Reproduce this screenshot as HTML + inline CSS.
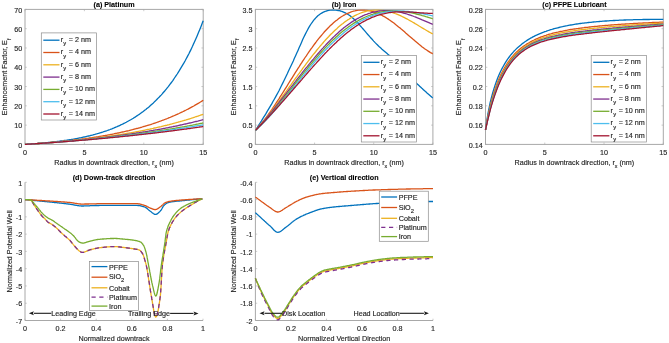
<!DOCTYPE html>
<html><head><meta charset="utf-8"><style>
html,body{margin:0;padding:0;background:#fff;width:669px;height:343px;overflow:hidden}
svg{display:block}
svg{will-change:transform}
text{font-family:"Liberation Sans",sans-serif;font-size:7.2px;fill:#262626;stroke:#262626;stroke-width:0.15px}
</style></head><body>
<svg width="669" height="343" viewBox="0 0 669 343">
<rect width="669" height="343" fill="#fff"/>
<rect x="25.00" y="9.40" width="178.20" height="135.00" fill="none" stroke="#a8a8a8" stroke-width="1"/>
<path d="M25.00,144.40v-1.8M25.00,9.40v1.8M84.40,144.40v-1.8M84.40,9.40v1.8M143.80,144.40v-1.8M143.80,9.40v1.8M203.20,144.40v-1.8M203.20,9.40v1.8M25.00,144.40h1.8M203.20,144.40h-1.8M25.00,125.11h1.8M203.20,125.11h-1.8M25.00,105.83h1.8M203.20,105.83h-1.8M25.00,86.54h1.8M203.20,86.54h-1.8M25.00,67.26h1.8M203.20,67.26h-1.8M25.00,47.97h1.8M203.20,47.97h-1.8M25.00,28.69h1.8M203.20,28.69h-1.8M25.00,9.40h1.8M203.20,9.40h-1.8" stroke="#a8a8a8" stroke-width="0.6" fill="none"/>
<text x="25.00" y="154.80" text-anchor="middle">0</text>
<text x="84.40" y="154.80" text-anchor="middle">5</text>
<text x="143.80" y="154.80" text-anchor="middle">10</text>
<text x="203.20" y="154.80" text-anchor="middle">15</text>
<text x="22.20" y="147.60" text-anchor="end">0</text>
<text x="22.20" y="128.31" text-anchor="end">10</text>
<text x="22.20" y="109.03" text-anchor="end">20</text>
<text x="22.20" y="89.74" text-anchor="end">30</text>
<text x="22.20" y="70.46" text-anchor="end">40</text>
<text x="22.20" y="51.17" text-anchor="end">50</text>
<text x="22.20" y="31.89" text-anchor="end">60</text>
<text x="22.20" y="12.60" text-anchor="end">70</text>
<text x="114.10" y="7.20" text-anchor="middle" font-weight="bold" style="fill:#000;stroke:#000;stroke-width:0.1px">(a) Platinum</text>
<text x="114.10" y="164.50" text-anchor="middle">Radius in downtrack direction, r<tspan dy="3.3" font-size="5.3">x</tspan><tspan dy="-3.3"> (nm)</tspan></text>
<text transform="translate(7.45,76.90) rotate(-90)" x="0" y="0" text-anchor="middle">Enhancement Factor, E<tspan dy="3.3" font-size="5.3">f</tspan></text>
<polyline points="25.0,144.4 25.9,144.3 26.8,144.3 27.7,144.2 28.6,144.2 29.5,144.1 30.4,144.0 31.3,144.0 32.2,143.9 33.1,143.8 34.0,143.8 34.9,143.7 35.7,143.6 36.6,143.6 37.5,143.5 38.4,143.4 39.3,143.3 40.2,143.3 41.1,143.2 42.0,143.1 42.9,143.0 43.8,142.9 44.7,142.9 45.6,142.8 46.5,142.7 47.4,142.6 48.3,142.5 49.2,142.4 50.1,142.3 51.0,142.2 51.9,142.1 52.8,142.0 53.7,141.9 54.6,141.8 55.4,141.7 56.3,141.6 57.2,141.5 58.1,141.4 59.0,141.3 59.9,141.1 60.8,141.0 61.7,140.9 62.6,140.8 63.5,140.7 64.4,140.5 65.3,140.4 66.2,140.3 67.1,140.1 68.0,140.0 68.9,139.9 69.8,139.7 70.7,139.6 71.6,139.4 72.5,139.3 73.4,139.1 74.3,139.0 75.1,138.8 76.0,138.6 76.9,138.5 77.8,138.3 78.7,138.1 79.6,137.9 80.5,137.8 81.4,137.6 82.3,137.4 83.2,137.2 84.1,137.0 85.0,136.8 85.9,136.6 86.8,136.4 87.7,136.2 88.6,136.0 89.5,135.8 90.4,135.5 91.3,135.3 92.2,135.1 93.1,134.9 94.0,134.6 94.8,134.4 95.7,134.1 96.6,133.9 97.5,133.6 98.4,133.4 99.3,133.1 100.2,132.8 101.1,132.5 102.0,132.3 102.9,132.0 103.8,131.7 104.7,131.4 105.6,131.1 106.5,130.8 107.4,130.5 108.3,130.1 109.2,129.8 110.1,129.5 111.0,129.1 111.9,128.8 112.8,128.4 113.7,128.1 114.5,127.7 115.4,127.3 116.3,126.9 117.2,126.6 118.1,126.2 119.0,125.8 119.9,125.4 120.8,124.9 121.7,124.5 122.6,124.1 123.5,123.6 124.4,123.2 125.3,122.7 126.2,122.3 127.1,121.8 128.0,121.3 128.9,120.8 129.8,120.3 130.7,119.8 131.6,119.2 132.5,118.7 133.4,118.2 134.2,117.6 135.1,117.1 136.0,116.5 136.9,115.9 137.8,115.3 138.7,114.7 139.6,114.1 140.5,113.4 141.4,112.8 142.3,112.1 143.2,111.5 144.1,110.8 145.0,110.1 145.9,109.4 146.8,108.6 147.7,107.9 148.6,107.2 149.5,106.4 150.4,105.6 151.3,104.8 152.2,104.0 153.1,103.2 153.9,102.4 154.8,101.5 155.7,100.6 156.6,99.7 157.5,98.8 158.4,97.9 159.3,97.0 160.2,96.0 161.1,95.1 162.0,94.1 162.9,93.0 163.8,92.0 164.7,91.0 165.6,89.9 166.5,88.8 167.4,87.7 168.3,86.6 169.2,85.4 170.1,84.2 171.0,83.0 171.9,81.8 172.8,80.6 173.6,79.3 174.5,78.0 175.4,76.7 176.3,75.3 177.2,74.0 178.1,72.6 179.0,71.2 179.9,69.7 180.8,68.2 181.7,66.7 182.6,65.2 183.5,63.7 184.4,62.1 185.3,60.5 186.2,58.8 187.1,57.1 188.0,55.4 188.9,53.7 189.8,51.9 190.7,50.1 191.6,48.2 192.5,46.3 193.3,44.4 194.2,42.5 195.1,40.5 196.0,38.5 196.9,36.4 197.8,34.3 198.7,32.1 199.6,29.9 200.5,27.7 201.4,25.4 202.3,23.1 203.2,20.8" fill="none" stroke="#0072BD" stroke-width="1.3" stroke-linejoin="round"/>
<polyline points="25.0,144.4 25.9,144.3 26.8,144.3 27.7,144.2 28.6,144.2 29.5,144.1 30.4,144.0 31.3,144.0 32.2,143.9 33.1,143.9 34.0,143.8 34.9,143.7 35.7,143.7 36.6,143.6 37.5,143.5 38.4,143.5 39.3,143.4 40.2,143.3 41.1,143.3 42.0,143.2 42.9,143.1 43.8,143.1 44.7,143.0 45.6,142.9 46.5,142.8 47.4,142.8 48.3,142.7 49.2,142.6 50.1,142.5 51.0,142.5 51.9,142.4 52.8,142.3 53.7,142.2 54.6,142.1 55.4,142.0 56.3,142.0 57.2,141.9 58.1,141.8 59.0,141.7 59.9,141.6 60.8,141.5 61.7,141.4 62.6,141.3 63.5,141.2 64.4,141.2 65.3,141.1 66.2,141.0 67.1,140.9 68.0,140.8 68.9,140.7 69.8,140.6 70.7,140.5 71.6,140.4 72.5,140.3 73.4,140.2 74.3,140.0 75.1,139.9 76.0,139.8 76.9,139.7 77.8,139.6 78.7,139.5 79.6,139.4 80.5,139.3 81.4,139.2 82.3,139.0 83.2,138.9 84.1,138.8 85.0,138.7 85.9,138.5 86.8,138.4 87.7,138.3 88.6,138.2 89.5,138.0 90.4,137.9 91.3,137.8 92.2,137.6 93.1,137.5 94.0,137.4 94.8,137.2 95.7,137.1 96.6,136.9 97.5,136.8 98.4,136.7 99.3,136.5 100.2,136.4 101.1,136.2 102.0,136.1 102.9,135.9 103.8,135.7 104.7,135.6 105.6,135.4 106.5,135.3 107.4,135.1 108.3,134.9 109.2,134.8 110.1,134.6 111.0,134.4 111.9,134.3 112.8,134.1 113.7,133.9 114.5,133.7 115.4,133.5 116.3,133.4 117.2,133.2 118.1,133.0 119.0,132.8 119.9,132.6 120.8,132.4 121.7,132.2 122.6,132.0 123.5,131.8 124.4,131.6 125.3,131.4 126.2,131.2 127.1,131.0 128.0,130.8 128.9,130.6 129.8,130.3 130.7,130.1 131.6,129.9 132.5,129.7 133.4,129.4 134.2,129.2 135.1,129.0 136.0,128.7 136.9,128.5 137.8,128.3 138.7,128.0 139.6,127.8 140.5,127.5 141.4,127.3 142.3,127.0 143.2,126.7 144.1,126.5 145.0,126.2 145.9,126.0 146.8,125.7 147.7,125.4 148.6,125.1 149.5,124.8 150.4,124.6 151.3,124.3 152.2,124.0 153.1,123.7 153.9,123.4 154.8,123.1 155.7,122.8 156.6,122.5 157.5,122.2 158.4,121.8 159.3,121.5 160.2,121.2 161.1,120.9 162.0,120.5 162.9,120.2 163.8,119.9 164.7,119.5 165.6,119.2 166.5,118.8 167.4,118.5 168.3,118.1 169.2,117.7 170.1,117.4 171.0,117.0 171.9,116.6 172.8,116.2 173.6,115.9 174.5,115.5 175.4,115.1 176.3,114.7 177.2,114.3 178.1,113.9 179.0,113.5 179.9,113.0 180.8,112.6 181.7,112.2 182.6,111.8 183.5,111.3 184.4,110.9 185.3,110.4 186.2,110.0 187.1,109.5 188.0,109.1 188.9,108.6 189.8,108.1 190.7,107.6 191.6,107.1 192.5,106.7 193.3,106.2 194.2,105.7 195.1,105.1 196.0,104.6 196.9,104.1 197.8,103.6 198.7,103.1 199.6,102.5 200.5,102.0 201.4,101.4 202.3,100.9 203.2,100.3" fill="none" stroke="#D95319" stroke-width="1.3" stroke-linejoin="round"/>
<polyline points="25.0,144.4 25.9,144.3 26.8,144.3 27.7,144.2 28.6,144.2 29.5,144.1 30.4,144.1 31.3,144.0 32.2,143.9 33.1,143.9 34.0,143.8 34.9,143.7 35.7,143.7 36.6,143.6 37.5,143.6 38.4,143.5 39.3,143.4 40.2,143.4 41.1,143.3 42.0,143.2 42.9,143.2 43.8,143.1 44.7,143.0 45.6,143.0 46.5,142.9 47.4,142.8 48.3,142.8 49.2,142.7 50.1,142.6 51.0,142.5 51.9,142.5 52.8,142.4 53.7,142.3 54.6,142.2 55.4,142.2 56.3,142.1 57.2,142.0 58.1,141.9 59.0,141.9 59.9,141.8 60.8,141.7 61.7,141.6 62.6,141.5 63.5,141.5 64.4,141.4 65.3,141.3 66.2,141.2 67.1,141.1 68.0,141.0 68.9,140.9 69.8,140.9 70.7,140.8 71.6,140.7 72.5,140.6 73.4,140.5 74.3,140.4 75.1,140.3 76.0,140.2 76.9,140.1 77.8,140.0 78.7,139.9 79.6,139.9 80.5,139.8 81.4,139.7 82.3,139.6 83.2,139.5 84.1,139.4 85.0,139.3 85.9,139.2 86.8,139.1 87.7,139.0 88.6,138.9 89.5,138.7 90.4,138.6 91.3,138.5 92.2,138.4 93.1,138.3 94.0,138.2 94.8,138.1 95.7,138.0 96.6,137.9 97.5,137.8 98.4,137.6 99.3,137.5 100.2,137.4 101.1,137.3 102.0,137.2 102.9,137.1 103.8,136.9 104.7,136.8 105.6,136.7 106.5,136.6 107.4,136.4 108.3,136.3 109.2,136.2 110.1,136.1 111.0,135.9 111.9,135.8 112.8,135.7 113.7,135.5 114.5,135.4 115.4,135.3 116.3,135.1 117.2,135.0 118.1,134.9 119.0,134.7 119.9,134.6 120.8,134.4 121.7,134.3 122.6,134.1 123.5,134.0 124.4,133.8 125.3,133.7 126.2,133.5 127.1,133.4 128.0,133.2 128.9,133.1 129.8,132.9 130.7,132.8 131.6,132.6 132.5,132.5 133.4,132.3 134.2,132.1 135.1,132.0 136.0,131.8 136.9,131.6 137.8,131.5 138.7,131.3 139.6,131.1 140.5,131.0 141.4,130.8 142.3,130.6 143.2,130.4 144.1,130.3 145.0,130.1 145.9,129.9 146.8,129.7 147.7,129.5 148.6,129.3 149.5,129.2 150.4,129.0 151.3,128.8 152.2,128.6 153.1,128.4 153.9,128.2 154.8,128.0 155.7,127.8 156.6,127.6 157.5,127.4 158.4,127.2 159.3,127.0 160.2,126.8 161.1,126.6 162.0,126.3 162.9,126.1 163.8,125.9 164.7,125.7 165.6,125.5 166.5,125.3 167.4,125.0 168.3,124.8 169.2,124.6 170.1,124.3 171.0,124.1 171.9,123.9 172.8,123.6 173.6,123.4 174.5,123.2 175.4,122.9 176.3,122.7 177.2,122.4 178.1,122.2 179.0,121.9 179.9,121.7 180.8,121.4 181.7,121.2 182.6,120.9 183.5,120.7 184.4,120.4 185.3,120.1 186.2,119.9 187.1,119.6 188.0,119.3 188.9,119.0 189.8,118.8 190.7,118.5 191.6,118.2 192.5,117.9 193.3,117.6 194.2,117.3 195.1,117.0 196.0,116.7 196.9,116.5 197.8,116.2 198.7,115.8 199.6,115.5 200.5,115.2 201.4,114.9 202.3,114.6 203.2,114.3" fill="none" stroke="#EDB120" stroke-width="1.3" stroke-linejoin="round"/>
<polyline points="25.0,144.4 25.9,144.3 26.8,144.3 27.7,144.2 28.6,144.2 29.5,144.1 30.4,144.1 31.3,144.0 32.2,143.9 33.1,143.9 34.0,143.8 34.9,143.8 35.7,143.7 36.6,143.6 37.5,143.6 38.4,143.5 39.3,143.4 40.2,143.4 41.1,143.3 42.0,143.2 42.9,143.2 43.8,143.1 44.7,143.1 45.6,143.0 46.5,142.9 47.4,142.9 48.3,142.8 49.2,142.7 50.1,142.6 51.0,142.6 51.9,142.5 52.8,142.4 53.7,142.4 54.6,142.3 55.4,142.2 56.3,142.2 57.2,142.1 58.1,142.0 59.0,141.9 59.9,141.9 60.8,141.8 61.7,141.7 62.6,141.6 63.5,141.6 64.4,141.5 65.3,141.4 66.2,141.3 67.1,141.2 68.0,141.2 68.9,141.1 69.8,141.0 70.7,140.9 71.6,140.8 72.5,140.8 73.4,140.7 74.3,140.6 75.1,140.5 76.0,140.4 76.9,140.3 77.8,140.3 78.7,140.2 79.6,140.1 80.5,140.0 81.4,139.9 82.3,139.8 83.2,139.7 84.1,139.6 85.0,139.6 85.9,139.5 86.8,139.4 87.7,139.3 88.6,139.2 89.5,139.1 90.4,139.0 91.3,138.9 92.2,138.8 93.1,138.7 94.0,138.6 94.8,138.5 95.7,138.4 96.6,138.3 97.5,138.2 98.4,138.1 99.3,138.0 100.2,137.9 101.1,137.8 102.0,137.7 102.9,137.6 103.8,137.5 104.7,137.4 105.6,137.3 106.5,137.2 107.4,137.1 108.3,137.0 109.2,136.8 110.1,136.7 111.0,136.6 111.9,136.5 112.8,136.4 113.7,136.3 114.5,136.2 115.4,136.1 116.3,135.9 117.2,135.8 118.1,135.7 119.0,135.6 119.9,135.5 120.8,135.3 121.7,135.2 122.6,135.1 123.5,135.0 124.4,134.9 125.3,134.7 126.2,134.6 127.1,134.5 128.0,134.4 128.9,134.2 129.8,134.1 130.7,134.0 131.6,133.8 132.5,133.7 133.4,133.6 134.2,133.4 135.1,133.3 136.0,133.2 136.9,133.0 137.8,132.9 138.7,132.8 139.6,132.6 140.5,132.5 141.4,132.3 142.3,132.2 143.2,132.0 144.1,131.9 145.0,131.8 145.9,131.6 146.8,131.5 147.7,131.3 148.6,131.2 149.5,131.0 150.4,130.9 151.3,130.7 152.2,130.6 153.1,130.4 153.9,130.2 154.8,130.1 155.7,129.9 156.6,129.8 157.5,129.6 158.4,129.4 159.3,129.3 160.2,129.1 161.1,129.0 162.0,128.8 162.9,128.6 163.8,128.4 164.7,128.3 165.6,128.1 166.5,127.9 167.4,127.8 168.3,127.6 169.2,127.4 170.1,127.2 171.0,127.1 171.9,126.9 172.8,126.7 173.6,126.5 174.5,126.3 175.4,126.1 176.3,126.0 177.2,125.8 178.1,125.6 179.0,125.4 179.9,125.2 180.8,125.0 181.7,124.8 182.6,124.6 183.5,124.4 184.4,124.2 185.3,124.0 186.2,123.8 187.1,123.6 188.0,123.4 188.9,123.2 189.8,123.0 190.7,122.8 191.6,122.6 192.5,122.4 193.3,122.1 194.2,121.9 195.1,121.7 196.0,121.5 196.9,121.3 197.8,121.1 198.7,120.8 199.6,120.6 200.5,120.4 201.4,120.2 202.3,119.9 203.2,119.7" fill="none" stroke="#7E2F8E" stroke-width="1.3" stroke-linejoin="round"/>
<polyline points="25.0,144.4 25.9,144.3 26.8,144.3 27.7,144.2 28.6,144.2 29.5,144.1 30.4,144.1 31.3,144.0 32.2,143.9 33.1,143.9 34.0,143.8 34.9,143.8 35.7,143.7 36.6,143.6 37.5,143.6 38.4,143.5 39.3,143.5 40.2,143.4 41.1,143.3 42.0,143.3 42.9,143.2 43.8,143.1 44.7,143.1 45.6,143.0 46.5,142.9 47.4,142.9 48.3,142.8 49.2,142.7 50.1,142.7 51.0,142.6 51.9,142.5 52.8,142.5 53.7,142.4 54.6,142.3 55.4,142.3 56.3,142.2 57.2,142.1 58.1,142.1 59.0,142.0 59.9,141.9 60.8,141.8 61.7,141.8 62.6,141.7 63.5,141.6 64.4,141.6 65.3,141.5 66.2,141.4 67.1,141.3 68.0,141.3 68.9,141.2 69.8,141.1 70.7,141.0 71.6,141.0 72.5,140.9 73.4,140.8 74.3,140.7 75.1,140.6 76.0,140.6 76.9,140.5 77.8,140.4 78.7,140.3 79.6,140.2 80.5,140.2 81.4,140.1 82.3,140.0 83.2,139.9 84.1,139.8 85.0,139.8 85.9,139.7 86.8,139.6 87.7,139.5 88.6,139.4 89.5,139.3 90.4,139.2 91.3,139.2 92.2,139.1 93.1,139.0 94.0,138.9 94.8,138.8 95.7,138.7 96.6,138.6 97.5,138.5 98.4,138.4 99.3,138.3 100.2,138.3 101.1,138.2 102.0,138.1 102.9,138.0 103.8,137.9 104.7,137.8 105.6,137.7 106.5,137.6 107.4,137.5 108.3,137.4 109.2,137.3 110.1,137.2 111.0,137.1 111.9,137.0 112.8,136.9 113.7,136.8 114.5,136.7 115.4,136.6 116.3,136.5 117.2,136.4 118.1,136.3 119.0,136.2 119.9,136.1 120.8,136.0 121.7,135.9 122.6,135.8 123.5,135.6 124.4,135.5 125.3,135.4 126.2,135.3 127.1,135.2 128.0,135.1 128.9,135.0 129.8,134.9 130.7,134.8 131.6,134.6 132.5,134.5 133.4,134.4 134.2,134.3 135.1,134.2 136.0,134.1 136.9,134.0 137.8,133.8 138.7,133.7 139.6,133.6 140.5,133.5 141.4,133.4 142.3,133.2 143.2,133.1 144.1,133.0 145.0,132.9 145.9,132.7 146.8,132.6 147.7,132.5 148.6,132.4 149.5,132.2 150.4,132.1 151.3,132.0 152.2,131.8 153.1,131.7 153.9,131.6 154.8,131.4 155.7,131.3 156.6,131.2 157.5,131.0 158.4,130.9 159.3,130.8 160.2,130.6 161.1,130.5 162.0,130.4 162.9,130.2 163.8,130.1 164.7,129.9 165.6,129.8 166.5,129.6 167.4,129.5 168.3,129.4 169.2,129.2 170.1,129.1 171.0,128.9 171.9,128.8 172.8,128.6 173.6,128.5 174.5,128.3 175.4,128.2 176.3,128.0 177.2,127.9 178.1,127.7 179.0,127.6 179.9,127.4 180.8,127.2 181.7,127.1 182.6,126.9 183.5,126.8 184.4,126.6 185.3,126.4 186.2,126.3 187.1,126.1 188.0,125.9 188.9,125.8 189.8,125.6 190.7,125.4 191.6,125.3 192.5,125.1 193.3,124.9 194.2,124.8 195.1,124.6 196.0,124.4 196.9,124.2 197.8,124.1 198.7,123.9 199.6,123.7 200.5,123.5 201.4,123.4 202.3,123.2 203.2,123.0" fill="none" stroke="#77AC30" stroke-width="1.3" stroke-linejoin="round"/>
<polyline points="25.0,144.4 25.9,144.3 26.8,144.3 27.7,144.2 28.6,144.2 29.5,144.1 30.4,144.1 31.3,144.0 32.2,143.9 33.1,143.9 34.0,143.8 34.9,143.8 35.7,143.7 36.6,143.6 37.5,143.6 38.4,143.5 39.3,143.5 40.2,143.4 41.1,143.3 42.0,143.3 42.9,143.2 43.8,143.1 44.7,143.1 45.6,143.0 46.5,143.0 47.4,142.9 48.3,142.8 49.2,142.8 50.1,142.7 51.0,142.6 51.9,142.6 52.8,142.5 53.7,142.4 54.6,142.4 55.4,142.3 56.3,142.2 57.2,142.2 58.1,142.1 59.0,142.0 59.9,142.0 60.8,141.9 61.7,141.8 62.6,141.7 63.5,141.7 64.4,141.6 65.3,141.5 66.2,141.5 67.1,141.4 68.0,141.3 68.9,141.2 69.8,141.2 70.7,141.1 71.6,141.0 72.5,141.0 73.4,140.9 74.3,140.8 75.1,140.7 76.0,140.7 76.9,140.6 77.8,140.5 78.7,140.4 79.6,140.3 80.5,140.3 81.4,140.2 82.3,140.1 83.2,140.0 84.1,140.0 85.0,139.9 85.9,139.8 86.8,139.7 87.7,139.6 88.6,139.6 89.5,139.5 90.4,139.4 91.3,139.3 92.2,139.2 93.1,139.1 94.0,139.1 94.8,139.0 95.7,138.9 96.6,138.8 97.5,138.7 98.4,138.6 99.3,138.5 100.2,138.5 101.1,138.4 102.0,138.3 102.9,138.2 103.8,138.1 104.7,138.0 105.6,137.9 106.5,137.8 107.4,137.7 108.3,137.7 109.2,137.6 110.1,137.5 111.0,137.4 111.9,137.3 112.8,137.2 113.7,137.1 114.5,137.0 115.4,136.9 116.3,136.8 117.2,136.7 118.1,136.6 119.0,136.5 119.9,136.4 120.8,136.3 121.7,136.2 122.6,136.1 123.5,136.0 124.4,135.9 125.3,135.8 126.2,135.7 127.1,135.6 128.0,135.5 128.9,135.4 129.8,135.3 130.7,135.2 131.6,135.1 132.5,135.0 133.4,134.9 134.2,134.8 135.1,134.7 136.0,134.6 136.9,134.5 137.8,134.4 138.7,134.3 139.6,134.2 140.5,134.1 141.4,133.9 142.3,133.8 143.2,133.7 144.1,133.6 145.0,133.5 145.9,133.4 146.8,133.3 147.7,133.2 148.6,133.0 149.5,132.9 150.4,132.8 151.3,132.7 152.2,132.6 153.1,132.5 153.9,132.3 154.8,132.2 155.7,132.1 156.6,132.0 157.5,131.9 158.4,131.7 159.3,131.6 160.2,131.5 161.1,131.4 162.0,131.2 162.9,131.1 163.8,131.0 164.7,130.9 165.6,130.7 166.5,130.6 167.4,130.5 168.3,130.4 169.2,130.2 170.1,130.1 171.0,130.0 171.9,129.8 172.8,129.7 173.6,129.6 174.5,129.4 175.4,129.3 176.3,129.2 177.2,129.0 178.1,128.9 179.0,128.8 179.9,128.6 180.8,128.5 181.7,128.4 182.6,128.2 183.5,128.1 184.4,127.9 185.3,127.8 186.2,127.7 187.1,127.5 188.0,127.4 188.9,127.2 189.8,127.1 190.7,126.9 191.6,126.8 192.5,126.6 193.3,126.5 194.2,126.3 195.1,126.2 196.0,126.0 196.9,125.9 197.8,125.7 198.7,125.6 199.6,125.4 200.5,125.3 201.4,125.1 202.3,125.0 203.2,124.8" fill="none" stroke="#4DBEEE" stroke-width="1.3" stroke-linejoin="round"/>
<polyline points="25.0,144.4 25.9,144.3 26.8,144.3 27.7,144.2 28.6,144.2 29.5,144.1 30.4,144.1 31.3,144.0 32.2,143.9 33.1,143.9 34.0,143.8 34.9,143.8 35.7,143.7 36.6,143.6 37.5,143.6 38.4,143.5 39.3,143.5 40.2,143.4 41.1,143.3 42.0,143.3 42.9,143.2 43.8,143.2 44.7,143.1 45.6,143.0 46.5,143.0 47.4,142.9 48.3,142.8 49.2,142.8 50.1,142.7 51.0,142.7 51.9,142.6 52.8,142.5 53.7,142.5 54.6,142.4 55.4,142.3 56.3,142.3 57.2,142.2 58.1,142.1 59.0,142.1 59.9,142.0 60.8,141.9 61.7,141.9 62.6,141.8 63.5,141.7 64.4,141.7 65.3,141.6 66.2,141.5 67.1,141.5 68.0,141.4 68.9,141.3 69.8,141.2 70.7,141.2 71.6,141.1 72.5,141.0 73.4,141.0 74.3,140.9 75.1,140.8 76.0,140.7 76.9,140.7 77.8,140.6 78.7,140.5 79.6,140.4 80.5,140.4 81.4,140.3 82.3,140.2 83.2,140.2 84.1,140.1 85.0,140.0 85.9,139.9 86.8,139.8 87.7,139.8 88.6,139.7 89.5,139.6 90.4,139.5 91.3,139.5 92.2,139.4 93.1,139.3 94.0,139.2 94.8,139.1 95.7,139.1 96.6,139.0 97.5,138.9 98.4,138.8 99.3,138.7 100.2,138.7 101.1,138.6 102.0,138.5 102.9,138.4 103.8,138.3 104.7,138.3 105.6,138.2 106.5,138.1 107.4,138.0 108.3,137.9 109.2,137.8 110.1,137.7 111.0,137.7 111.9,137.6 112.8,137.5 113.7,137.4 114.5,137.3 115.4,137.2 116.3,137.1 117.2,137.1 118.1,137.0 119.0,136.9 119.9,136.8 120.8,136.7 121.7,136.6 122.6,136.5 123.5,136.4 124.4,136.3 125.3,136.2 126.2,136.1 127.1,136.1 128.0,136.0 128.9,135.9 129.8,135.8 130.7,135.7 131.6,135.6 132.5,135.5 133.4,135.4 134.2,135.3 135.1,135.2 136.0,135.1 136.9,135.0 137.8,134.9 138.7,134.8 139.6,134.7 140.5,134.6 141.4,134.5 142.3,134.4 143.2,134.3 144.1,134.2 145.0,134.1 145.9,134.0 146.8,133.9 147.7,133.8 148.6,133.7 149.5,133.6 150.4,133.5 151.3,133.4 152.2,133.3 153.1,133.2 153.9,133.1 154.8,133.0 155.7,132.9 156.6,132.8 157.5,132.7 158.4,132.5 159.3,132.4 160.2,132.3 161.1,132.2 162.0,132.1 162.9,132.0 163.8,131.9 164.7,131.8 165.6,131.7 166.5,131.6 167.4,131.4 168.3,131.3 169.2,131.2 170.1,131.1 171.0,131.0 171.9,130.9 172.8,130.8 173.6,130.6 174.5,130.5 175.4,130.4 176.3,130.3 177.2,130.2 178.1,130.0 179.0,129.9 179.9,129.8 180.8,129.7 181.7,129.6 182.6,129.4 183.5,129.3 184.4,129.2 185.3,129.1 186.2,129.0 187.1,128.8 188.0,128.7 188.9,128.6 189.8,128.5 190.7,128.3 191.6,128.2 192.5,128.1 193.3,127.9 194.2,127.8 195.1,127.7 196.0,127.6 196.9,127.4 197.8,127.3 198.7,127.2 199.6,127.0 200.5,126.9 201.4,126.8 202.3,126.6 203.2,126.5" fill="none" stroke="#A2142F" stroke-width="1.3" stroke-linejoin="round"/>
<rect x="41.30" y="32.90" width="55.20" height="87.10" fill="#fff" stroke="#8c8c8c" stroke-width="0.7"/>
<line x1="43.30" y1="40.20" x2="59.50" y2="40.20" stroke="#0072BD" stroke-width="1.3"/>
<text x="60.70" y="42.00">r<tspan dy="3.2" dx="0.2" font-size="5.7">y</tspan><tspan dy="-3.2" dx="0.6"> = 2 nm</tspan></text>
<line x1="43.30" y1="52.50" x2="59.50" y2="52.50" stroke="#D95319" stroke-width="1.3"/>
<text x="60.70" y="54.30">r<tspan dy="3.2" dx="0.2" font-size="5.7">y</tspan><tspan dy="-3.2" dx="0.6"> = 4 nm</tspan></text>
<line x1="43.30" y1="64.80" x2="59.50" y2="64.80" stroke="#EDB120" stroke-width="1.3"/>
<text x="60.70" y="66.60">r<tspan dy="3.2" dx="0.2" font-size="5.7">y</tspan><tspan dy="-3.2" dx="0.6"> = 6 nm</tspan></text>
<line x1="43.30" y1="77.10" x2="59.50" y2="77.10" stroke="#7E2F8E" stroke-width="1.3"/>
<text x="60.70" y="78.90">r<tspan dy="3.2" dx="0.2" font-size="5.7">y</tspan><tspan dy="-3.2" dx="0.6"> = 8 nm</tspan></text>
<line x1="43.30" y1="89.40" x2="59.50" y2="89.40" stroke="#77AC30" stroke-width="1.3"/>
<text x="60.70" y="91.20">r<tspan dy="3.2" dx="0.2" font-size="5.7">y</tspan><tspan dy="-3.2" dx="0.6"> = 10 nm</tspan></text>
<line x1="43.30" y1="101.70" x2="59.50" y2="101.70" stroke="#4DBEEE" stroke-width="1.3"/>
<text x="60.70" y="103.50">r<tspan dy="3.2" dx="0.2" font-size="5.7">y</tspan><tspan dy="-3.2" dx="0.6"> = 12 nm</tspan></text>
<line x1="43.30" y1="114.00" x2="59.50" y2="114.00" stroke="#A2142F" stroke-width="1.3"/>
<text x="60.70" y="115.80">r<tspan dy="3.2" dx="0.2" font-size="5.7">y</tspan><tspan dy="-3.2" dx="0.6"> = 14 nm</tspan></text>
<clipPath id="cb"><rect x="255.4" y="9.4" width="177.5" height="135"/></clipPath>
<rect x="255.40" y="9.40" width="177.50" height="135.00" fill="none" stroke="#a8a8a8" stroke-width="1"/>
<path d="M255.40,144.40v-1.8M255.40,9.40v1.8M314.57,144.40v-1.8M314.57,9.40v1.8M373.73,144.40v-1.8M373.73,9.40v1.8M432.90,144.40v-1.8M432.90,9.40v1.8M255.40,144.40h1.8M432.90,144.40h-1.8M255.40,125.11h1.8M432.90,125.11h-1.8M255.40,105.83h1.8M432.90,105.83h-1.8M255.40,86.54h1.8M432.90,86.54h-1.8M255.40,67.26h1.8M432.90,67.26h-1.8M255.40,47.97h1.8M432.90,47.97h-1.8M255.40,28.69h1.8M432.90,28.69h-1.8M255.40,9.40h1.8M432.90,9.40h-1.8" stroke="#a8a8a8" stroke-width="0.6" fill="none"/>
<text x="255.40" y="154.80" text-anchor="middle">0</text>
<text x="314.57" y="154.80" text-anchor="middle">5</text>
<text x="373.73" y="154.80" text-anchor="middle">10</text>
<text x="432.90" y="154.80" text-anchor="middle">15</text>
<text x="252.60" y="147.60" text-anchor="end">0</text>
<text x="252.60" y="128.31" text-anchor="end">0.5</text>
<text x="252.60" y="109.03" text-anchor="end">1</text>
<text x="252.60" y="89.74" text-anchor="end">1.5</text>
<text x="252.60" y="70.46" text-anchor="end">2</text>
<text x="252.60" y="51.17" text-anchor="end">2.5</text>
<text x="252.60" y="31.89" text-anchor="end">3</text>
<text x="252.60" y="12.60" text-anchor="end">3.5</text>
<text x="344.15" y="7.20" text-anchor="middle" font-weight="bold" style="fill:#000;stroke:#000;stroke-width:0.1px">(b) Iron</text>
<text x="344.15" y="164.50" text-anchor="middle">Radius in downtrack direction, r<tspan dy="3.3" font-size="5.3">x</tspan><tspan dy="-3.3"> (nm)</tspan></text>
<text transform="translate(235.75,76.90) rotate(-90)" x="0" y="0" text-anchor="middle">Enhancement Factor, E<tspan dy="3.3" font-size="5.3">f</tspan></text>
<polyline points="255.4,130.5 256.6,128.6 257.8,126.7 258.9,124.9 260.1,123.0 261.3,121.1 262.5,119.1 263.7,117.2 264.9,115.3 266.1,113.4 267.2,111.4 268.4,109.4 269.6,107.4 270.8,105.4 272.0,103.4 273.1,101.3 274.3,99.2 275.5,97.1 276.7,94.9 277.9,92.7 279.1,90.5 280.2,88.2 281.4,85.8 282.6,83.4 283.8,81.0 285.0,78.5 286.2,76.0 287.4,73.5 288.5,71.0 289.7,68.5 290.9,66.0 292.1,63.5 293.3,60.9 294.4,58.3 295.6,55.7 296.8,53.1 298.0,50.4 299.2,47.6 300.4,44.9 301.6,42.2 302.7,39.6 303.9,37.0 305.1,34.6 306.3,32.2 307.5,30.0 308.6,27.9 309.8,25.9 311.0,24.0 312.2,22.3 313.4,20.7 314.6,19.2 315.8,17.9 316.9,16.7 318.1,15.6 319.3,14.7 320.5,13.8 321.7,13.1 322.9,12.4 324.0,11.9 325.2,11.4 326.4,11.0 327.6,10.7 328.8,10.4 329.9,10.2 331.1,10.1 332.3,10.0 333.5,10.0 334.7,10.1 335.9,10.1 337.1,10.3 338.2,10.5 339.4,10.7 340.6,11.0 341.8,11.4 343.0,11.8 344.1,12.3 345.3,12.9 346.5,13.5 347.7,14.2 348.9,15.0 350.1,15.8 351.2,16.8 352.4,17.7 353.6,18.8 354.8,19.9 356.0,21.1 357.2,22.3 358.4,23.6 359.5,24.9 360.7,26.3 361.9,27.6 363.1,29.0 364.3,30.4 365.4,31.7 366.6,33.1 367.8,34.5 369.0,35.8 370.2,37.2 371.4,38.5 372.6,39.8 373.7,41.1 374.9,42.4 376.1,43.6 377.3,44.8 378.5,46.0 379.6,47.1 380.8,48.1 382.0,49.2 383.2,50.2 384.4,51.2 385.6,52.2 386.8,53.2 387.9,54.2 389.1,55.2 390.3,56.3 391.5,57.4 392.7,58.5 393.9,59.6 395.0,60.8 396.2,62.0 397.4,63.2 398.6,64.4 399.8,65.6 400.9,66.9 402.1,68.1 403.3,69.4 404.5,70.7 405.7,71.9 406.9,73.2 408.0,74.5 409.2,75.7 410.4,77.0 411.6,78.2 412.8,79.4 414.0,80.7 415.1,81.9 416.3,83.0 417.5,84.2 418.7,85.3 419.9,86.4 421.1,87.5 422.2,88.6 423.4,89.7 424.6,90.8 425.8,91.8 427.0,92.9 428.2,93.9 429.4,94.9 430.5,95.9 431.7,97.0 432.9,98.0" fill="none" stroke="#0072BD" stroke-width="1.3" stroke-linejoin="round" clip-path="url(#cb)"/>
<polyline points="255.4,130.0 256.6,128.8 257.8,127.6 258.9,126.3 260.1,124.9 261.3,123.6 262.5,122.1 263.7,120.6 264.9,119.1 266.1,117.6 267.2,116.0 268.4,114.4 269.6,112.7 270.8,111.0 272.0,109.3 273.1,107.6 274.3,105.8 275.5,104.0 276.7,102.2 277.9,100.4 279.1,98.6 280.2,96.7 281.4,94.9 282.6,93.0 283.8,91.1 285.0,89.2 286.2,87.3 287.4,85.4 288.5,83.5 289.7,81.6 290.9,79.7 292.1,77.8 293.3,75.9 294.4,74.1 295.6,72.2 296.8,70.3 298.0,68.4 299.2,66.6 300.4,64.7 301.6,62.9 302.7,61.1 303.9,59.3 305.1,57.5 306.3,55.8 307.5,54.0 308.6,52.3 309.8,50.6 311.0,48.9 312.2,47.3 313.4,45.6 314.6,44.0 315.8,42.5 316.9,40.9 318.1,39.4 319.3,37.9 320.5,36.5 321.7,35.1 322.9,33.7 324.0,32.3 325.2,31.0 326.4,29.7 327.6,28.5 328.8,27.3 329.9,26.1 331.1,25.0 332.3,23.9 333.5,22.8 334.7,21.8 335.9,20.8 337.1,19.9 338.2,19.0 339.4,18.1 340.6,17.3 341.8,16.5 343.0,15.8 344.1,15.1 345.3,14.5 346.5,13.8 347.7,13.3 348.9,12.8 350.1,12.3 351.2,11.9 352.4,11.5 353.6,11.1 354.8,10.9 356.0,10.6 357.2,10.4 358.4,10.2 359.5,10.1 360.7,10.0 361.9,10.0 363.1,10.0 364.3,10.0 365.4,10.1 366.6,10.2 367.8,10.4 369.0,10.6 370.2,10.9 371.4,11.2 372.6,11.5 373.7,11.8 374.9,12.3 376.1,12.7 377.3,13.2 378.5,13.7 379.6,14.2 380.8,14.8 382.0,15.4 383.2,16.1 384.4,16.7 385.6,17.4 386.8,18.2 387.9,18.9 389.1,19.7 390.3,20.5 391.5,21.4 392.7,22.2 393.9,23.1 395.0,24.0 396.2,25.0 397.4,25.9 398.6,26.9 399.8,27.8 400.9,28.8 402.1,29.8 403.3,30.8 404.5,31.8 405.7,32.9 406.9,33.9 408.0,34.9 409.2,36.0 410.4,37.0 411.6,38.0 412.8,39.1 414.0,40.1 415.1,41.1 416.3,42.1 417.5,43.1 418.7,44.1 419.9,45.0 421.1,46.0 422.2,46.9 423.4,47.8 424.6,48.7 425.8,49.5 427.0,50.3 428.2,51.1 429.4,51.9 430.5,52.6 431.7,53.2 432.9,53.8" fill="none" stroke="#D95319" stroke-width="1.3" stroke-linejoin="round" clip-path="url(#cb)"/>
<polyline points="255.4,130.4 256.6,129.1 257.8,127.8 258.9,126.5 260.1,125.1 261.3,123.7 262.5,122.3 263.7,120.9 264.9,119.5 266.1,118.0 267.2,116.6 268.4,115.1 269.6,113.6 270.8,112.1 272.0,110.5 273.1,109.0 274.3,107.4 275.5,105.8 276.7,104.3 277.9,102.7 279.1,101.1 280.2,99.5 281.4,97.9 282.6,96.2 283.8,94.6 285.0,93.0 286.2,91.3 287.4,89.7 288.5,88.1 289.7,86.4 290.9,84.8 292.1,83.1 293.3,81.5 294.4,79.8 295.6,78.2 296.8,76.6 298.0,74.9 299.2,73.3 300.4,71.7 301.6,70.1 302.7,68.4 303.9,66.9 305.1,65.3 306.3,63.7 307.5,62.1 308.6,60.6 309.8,59.0 311.0,57.5 312.2,55.9 313.4,54.4 314.6,53.0 315.8,51.5 316.9,50.0 318.1,48.6 319.3,47.2 320.5,45.7 321.7,44.4 322.9,43.0 324.0,41.7 325.2,40.3 326.4,39.0 327.6,37.7 328.8,36.5 329.9,35.3 331.1,34.0 332.3,32.9 333.5,31.7 334.7,30.6 335.9,29.5 337.1,28.4 338.2,27.3 339.4,26.3 340.6,25.3 341.8,24.3 343.0,23.4 344.1,22.5 345.3,21.6 346.5,20.8 347.7,19.9 348.9,19.2 350.1,18.4 351.2,17.7 352.4,17.0 353.6,16.3 354.8,15.7 356.0,15.1 357.2,14.5 358.4,14.0 359.5,13.5 360.7,13.0 361.9,12.6 363.1,12.2 364.3,11.8 365.4,11.5 366.6,11.2 367.8,10.9 369.0,10.7 370.2,10.5 371.4,10.3 372.6,10.2 373.7,10.1 374.9,10.0 376.1,10.0 377.3,10.0 378.5,10.0 379.6,10.1 380.8,10.2 382.0,10.3 383.2,10.4 384.4,10.6 385.6,10.8 386.8,11.1 387.9,11.3 389.1,11.6 390.3,11.9 391.5,12.3 392.7,12.7 393.9,13.1 395.0,13.5 396.2,13.9 397.4,14.4 398.6,14.9 399.8,15.4 400.9,15.9 402.1,16.5 403.3,17.1 404.5,17.7 405.7,18.3 406.9,18.9 408.0,19.5 409.2,20.2 410.4,20.9 411.6,21.5 412.8,22.2 414.0,22.9 415.1,23.6 416.3,24.3 417.5,25.0 418.7,25.8 419.9,26.5 421.1,27.2 422.2,27.9 423.4,28.6 424.6,29.3 425.8,30.0 427.0,30.7 428.2,31.4 429.4,32.1 430.5,32.7 431.7,33.4 432.9,34.0" fill="none" stroke="#EDB120" stroke-width="1.3" stroke-linejoin="round" clip-path="url(#cb)"/>
<polyline points="255.4,130.4 256.6,129.2 257.8,127.9 258.9,126.6 260.1,125.3 261.3,123.9 262.5,122.6 263.7,121.2 264.9,119.9 266.1,118.5 267.2,117.1 268.4,115.7 269.6,114.2 270.8,112.8 272.0,111.4 273.1,109.9 274.3,108.5 275.5,107.0 276.7,105.5 277.9,104.0 279.1,102.5 280.2,101.0 281.4,99.5 282.6,98.0 283.8,96.5 285.0,95.0 286.2,93.5 287.4,91.9 288.5,90.4 289.7,88.9 290.9,87.4 292.1,85.8 293.3,84.3 294.4,82.8 295.6,81.3 296.8,79.7 298.0,78.2 299.2,76.7 300.4,75.2 301.6,73.7 302.7,72.2 303.9,70.7 305.1,69.2 306.3,67.7 307.5,66.3 308.6,64.8 309.8,63.4 311.0,61.9 312.2,60.5 313.4,59.1 314.6,57.6 315.8,56.2 316.9,54.9 318.1,53.5 319.3,52.1 320.5,50.8 321.7,49.4 322.9,48.1 324.0,46.8 325.2,45.6 326.4,44.3 327.6,43.0 328.8,41.8 329.9,40.6 331.1,39.4 332.3,38.2 333.5,37.1 334.7,35.9 335.9,34.8 337.1,33.7 338.2,32.7 339.4,31.6 340.6,30.6 341.8,29.6 343.0,28.6 344.1,27.6 345.3,26.7 346.5,25.8 347.7,24.9 348.9,24.1 350.1,23.2 351.2,22.4 352.4,21.6 353.6,20.9 354.8,20.1 356.0,19.4 357.2,18.7 358.4,18.1 359.5,17.5 360.7,16.9 361.9,16.3 363.1,15.7 364.3,15.2 365.4,14.7 366.6,14.3 367.8,13.8 369.0,13.4 370.2,13.1 371.4,12.7 372.6,12.4 373.7,12.1 374.9,11.8 376.1,11.6 377.3,11.4 378.5,11.2 379.6,11.0 380.8,10.9 382.0,10.8 383.2,10.7 384.4,10.6 385.6,10.6 386.8,10.6 387.9,10.6 389.1,10.7 390.3,10.7 391.5,10.8 392.7,10.9 393.9,11.1 395.0,11.2 396.2,11.4 397.4,11.6 398.6,11.9 399.8,12.1 400.9,12.4 402.1,12.7 403.3,13.0 404.5,13.3 405.7,13.6 406.9,14.0 408.0,14.4 409.2,14.8 410.4,15.2 411.6,15.6 412.8,16.0 414.0,16.5 415.1,16.9 416.3,17.4 417.5,17.9 418.7,18.3 419.9,18.8 421.1,19.3 422.2,19.8 423.4,20.3 424.6,20.8 425.8,21.3 427.0,21.8 428.2,22.3 429.4,22.8 430.5,23.3 431.7,23.8 432.9,24.3" fill="none" stroke="#7E2F8E" stroke-width="1.3" stroke-linejoin="round" clip-path="url(#cb)"/>
<polyline points="255.4,130.4 256.6,129.3 257.8,128.2 258.9,127.1 260.1,125.9 261.3,124.7 262.5,123.5 263.7,122.2 264.9,120.9 266.1,119.6 267.2,118.3 268.4,117.0 269.6,115.6 270.8,114.3 272.0,112.9 273.1,111.5 274.3,110.1 275.5,108.6 276.7,107.2 277.9,105.7 279.1,104.3 280.2,102.8 281.4,101.3 282.6,99.8 283.8,98.3 285.0,96.8 286.2,95.3 287.4,93.8 288.5,92.3 289.7,90.8 290.9,89.3 292.1,87.8 293.3,86.2 294.4,84.7 295.6,83.2 296.8,81.7 298.0,80.2 299.2,78.7 300.4,77.2 301.6,75.7 302.7,74.2 303.9,72.7 305.1,71.2 306.3,69.8 307.5,68.3 308.6,66.9 309.8,65.4 311.0,64.0 312.2,62.6 313.4,61.2 314.6,59.8 315.8,58.4 316.9,57.0 318.1,55.7 319.3,54.3 320.5,53.0 321.7,51.7 322.9,50.4 324.0,49.1 325.2,47.8 326.4,46.6 327.6,45.4 328.8,44.2 329.9,43.0 331.1,41.8 332.3,40.6 333.5,39.5 334.7,38.4 335.9,37.3 337.1,36.2 338.2,35.2 339.4,34.1 340.6,33.1 341.8,32.1 343.0,31.1 344.1,30.2 345.3,29.3 346.5,28.4 347.7,27.5 348.9,26.6 350.1,25.8 351.2,25.0 352.4,24.2 353.6,23.4 354.8,22.6 356.0,21.9 357.2,21.2 358.4,20.5 359.5,19.9 360.7,19.3 361.9,18.7 363.1,18.1 364.3,17.5 365.4,17.0 366.6,16.5 367.8,16.0 369.0,15.5 370.2,15.1 371.4,14.6 372.6,14.3 373.7,13.9 374.9,13.5 376.1,13.2 377.3,12.9 378.5,12.6 379.6,12.4 380.8,12.1 382.0,11.9 383.2,11.7 384.4,11.6 385.6,11.4 386.8,11.3 387.9,11.2 389.1,11.1 390.3,11.0 391.5,11.0 392.7,10.9 393.9,10.9 395.0,10.9 396.2,11.0 397.4,11.0 398.6,11.1 399.8,11.2 400.9,11.3 402.1,11.4 403.3,11.5 404.5,11.7 405.7,11.9 406.9,12.0 408.0,12.2 409.2,12.5 410.4,12.7 411.6,12.9 412.8,13.2 414.0,13.4 415.1,13.7 416.3,14.0 417.5,14.3 418.7,14.6 419.9,14.9 421.1,15.2 422.2,15.6 423.4,15.9 424.6,16.2 425.8,16.6 427.0,16.9 428.2,17.3 429.4,17.7 430.5,18.0 431.7,18.4 432.9,18.8" fill="none" stroke="#77AC30" stroke-width="1.3" stroke-linejoin="round" clip-path="url(#cb)"/>
<polyline points="255.4,130.4 256.6,129.4 257.8,128.3 258.9,127.2 260.1,126.1 261.3,125.0 262.5,123.8 263.7,122.6 264.9,121.4 266.1,120.2 267.2,118.9 268.4,117.6 269.6,116.3 270.8,115.0 272.0,113.7 273.1,112.4 274.3,111.0 275.5,109.6 276.7,108.2 277.9,106.8 279.1,105.4 280.2,104.0 281.4,102.6 282.6,101.2 283.8,99.7 285.0,98.3 286.2,96.8 287.4,95.3 288.5,93.9 289.7,92.4 290.9,90.9 292.1,89.5 293.3,88.0 294.4,86.5 295.6,85.1 296.8,83.6 298.0,82.1 299.2,80.6 300.4,79.2 301.6,77.7 302.7,76.3 303.9,74.8 305.1,73.4 306.3,71.9 307.5,70.5 308.6,69.1 309.8,67.7 311.0,66.3 312.2,64.9 313.4,63.5 314.6,62.1 315.8,60.7 316.9,59.4 318.1,58.0 319.3,56.7 320.5,55.4 321.7,54.1 322.9,52.8 324.0,51.5 325.2,50.3 326.4,49.0 327.6,47.8 328.8,46.6 329.9,45.4 331.1,44.2 332.3,43.1 333.5,41.9 334.7,40.8 335.9,39.7 337.1,38.6 338.2,37.5 339.4,36.5 340.6,35.4 341.8,34.4 343.0,33.4 344.1,32.5 345.3,31.5 346.5,30.6 347.7,29.7 348.9,28.8 350.1,27.9 351.2,27.1 352.4,26.3 353.6,25.5 354.8,24.7 356.0,23.9 357.2,23.2 358.4,22.5 359.5,21.8 360.7,21.1 361.9,20.5 363.1,19.8 364.3,19.2 365.4,18.6 366.6,18.1 367.8,17.6 369.0,17.0 370.2,16.5 371.4,16.1 372.6,15.6 373.7,15.2 374.9,14.8 376.1,14.4 377.3,14.1 378.5,13.7 379.6,13.4 380.8,13.1 382.0,12.8 383.2,12.6 384.4,12.3 385.6,12.1 386.8,11.9 387.9,11.8 389.1,11.6 390.3,11.5 391.5,11.4 392.7,11.3 393.9,11.2 395.0,11.1 396.2,11.1 397.4,11.1 398.6,11.0 399.8,11.1 400.9,11.1 402.1,11.1 403.3,11.2 404.5,11.2 405.7,11.3 406.9,11.4 408.0,11.5 409.2,11.7 410.4,11.8 411.6,11.9 412.8,12.1 414.0,12.3 415.1,12.4 416.3,12.6 417.5,12.8 418.7,13.0 419.9,13.2 421.1,13.5 422.2,13.7 423.4,13.9 424.6,14.1 425.8,14.4 427.0,14.6 428.2,14.9 429.4,15.1 430.5,15.4 431.7,15.6 432.9,15.9" fill="none" stroke="#4DBEEE" stroke-width="1.3" stroke-linejoin="round" clip-path="url(#cb)"/>
<polyline points="255.4,130.4 256.6,129.2 257.8,128.0 258.9,126.9 260.1,125.7 261.3,124.5 262.5,123.3 263.7,122.1 264.9,120.9 266.1,119.6 267.2,118.4 268.4,117.2 269.6,115.9 270.8,114.6 272.0,113.4 273.1,112.1 274.3,110.8 275.5,109.5 276.7,108.2 277.9,106.9 279.1,105.6 280.2,104.3 281.4,102.9 282.6,101.6 283.8,100.3 285.0,98.9 286.2,97.6 287.4,96.2 288.5,94.9 289.7,93.5 290.9,92.1 292.1,90.8 293.3,89.4 294.4,88.0 295.6,86.7 296.8,85.3 298.0,83.9 299.2,82.5 300.4,81.2 301.6,79.8 302.7,78.4 303.9,77.1 305.1,75.7 306.3,74.3 307.5,73.0 308.6,71.6 309.8,70.3 311.0,68.9 312.2,67.6 313.4,66.2 314.6,64.9 315.8,63.6 316.9,62.3 318.1,61.0 319.3,59.7 320.5,58.4 321.7,57.1 322.9,55.8 324.0,54.6 325.2,53.3 326.4,52.1 327.6,50.8 328.8,49.6 329.9,48.4 331.1,47.3 332.3,46.1 333.5,44.9 334.7,43.8 335.9,42.7 337.1,41.5 338.2,40.4 339.4,39.4 340.6,38.3 341.8,37.3 343.0,36.2 344.1,35.2 345.3,34.2 346.5,33.3 347.7,32.3 348.9,31.4 350.1,30.5 351.2,29.6 352.4,28.7 353.6,27.9 354.8,27.0 356.0,26.2 357.2,25.4 358.4,24.7 359.5,23.9 360.7,23.2 361.9,22.5 363.1,21.8 364.3,21.2 365.4,20.6 366.6,19.9 367.8,19.4 369.0,18.8 370.2,18.3 371.4,17.7 372.6,17.2 373.7,16.8 374.9,16.3 376.1,15.9 377.3,15.5 378.5,15.1 379.6,14.8 380.8,14.4 382.0,14.1 383.2,13.8 384.4,13.6 385.6,13.3 386.8,13.1 387.9,12.9 389.1,12.7 390.3,12.5 391.5,12.4 392.7,12.2 393.9,12.1 395.0,12.0 396.2,11.9 397.4,11.9 398.6,11.8 399.8,11.8 400.9,11.8 402.1,11.8 403.3,11.8 404.5,11.8 405.7,11.8 406.9,11.9 408.0,11.9 409.2,12.0 410.4,12.1 411.6,12.1 412.8,12.2 414.0,12.3 415.1,12.4 416.3,12.5 417.5,12.6 418.7,12.7 419.9,12.8 421.1,12.9 422.2,12.9 423.4,13.0 424.6,13.1 425.8,13.2 427.0,13.2 428.2,13.3 429.4,13.3 430.5,13.3 431.7,13.3 432.9,13.3" fill="none" stroke="#A2142F" stroke-width="1.3" stroke-linejoin="round" clip-path="url(#cb)"/>
<rect x="361.30" y="55.50" width="55.20" height="86.50" fill="#fff" stroke="#8c8c8c" stroke-width="0.7"/>
<line x1="363.30" y1="62.30" x2="379.50" y2="62.30" stroke="#0072BD" stroke-width="1.3"/>
<text x="380.70" y="64.10">r<tspan dy="3.2" dx="0.2" font-size="5.7">y</tspan><tspan dy="-3.2" dx="0.6"> = 2 nm</tspan></text>
<line x1="363.30" y1="74.55" x2="379.50" y2="74.55" stroke="#D95319" stroke-width="1.3"/>
<text x="380.70" y="76.35">r<tspan dy="3.2" dx="0.2" font-size="5.7">y</tspan><tspan dy="-3.2" dx="0.6"> = 4 nm</tspan></text>
<line x1="363.30" y1="86.80" x2="379.50" y2="86.80" stroke="#EDB120" stroke-width="1.3"/>
<text x="380.70" y="88.60">r<tspan dy="3.2" dx="0.2" font-size="5.7">y</tspan><tspan dy="-3.2" dx="0.6"> = 6 nm</tspan></text>
<line x1="363.30" y1="99.05" x2="379.50" y2="99.05" stroke="#7E2F8E" stroke-width="1.3"/>
<text x="380.70" y="100.85">r<tspan dy="3.2" dx="0.2" font-size="5.7">y</tspan><tspan dy="-3.2" dx="0.6"> = 8 nm</tspan></text>
<line x1="363.30" y1="111.30" x2="379.50" y2="111.30" stroke="#77AC30" stroke-width="1.3"/>
<text x="380.70" y="113.10">r<tspan dy="3.2" dx="0.2" font-size="5.7">y</tspan><tspan dy="-3.2" dx="0.6"> = 10 nm</tspan></text>
<line x1="363.30" y1="123.55" x2="379.50" y2="123.55" stroke="#4DBEEE" stroke-width="1.3"/>
<text x="380.70" y="125.35">r<tspan dy="3.2" dx="0.2" font-size="5.7">y</tspan><tspan dy="-3.2" dx="0.6"> = 12 nm</tspan></text>
<line x1="363.30" y1="135.80" x2="379.50" y2="135.80" stroke="#A2142F" stroke-width="1.3"/>
<text x="380.70" y="137.60">r<tspan dy="3.2" dx="0.2" font-size="5.7">y</tspan><tspan dy="-3.2" dx="0.6"> = 14 nm</tspan></text>
<rect x="485.50" y="9.40" width="177.80" height="135.00" fill="none" stroke="#a8a8a8" stroke-width="1"/>
<path d="M485.50,144.40v-1.8M485.50,9.40v1.8M544.77,144.40v-1.8M544.77,9.40v1.8M604.03,144.40v-1.8M604.03,9.40v1.8M663.30,144.40v-1.8M663.30,9.40v1.8M485.50,144.40h1.8M663.30,144.40h-1.8M485.50,125.11h1.8M663.30,125.11h-1.8M485.50,105.83h1.8M663.30,105.83h-1.8M485.50,86.54h1.8M663.30,86.54h-1.8M485.50,67.26h1.8M663.30,67.26h-1.8M485.50,47.97h1.8M663.30,47.97h-1.8M485.50,28.69h1.8M663.30,28.69h-1.8M485.50,9.40h1.8M663.30,9.40h-1.8" stroke="#a8a8a8" stroke-width="0.6" fill="none"/>
<text x="485.50" y="154.80" text-anchor="middle">0</text>
<text x="544.77" y="154.80" text-anchor="middle">5</text>
<text x="604.03" y="154.80" text-anchor="middle">10</text>
<text x="663.30" y="154.80" text-anchor="middle">15</text>
<text x="482.70" y="147.60" text-anchor="end">0.14</text>
<text x="482.70" y="128.31" text-anchor="end">0.16</text>
<text x="482.70" y="109.03" text-anchor="end">0.18</text>
<text x="482.70" y="89.74" text-anchor="end">0.2</text>
<text x="482.70" y="70.46" text-anchor="end">0.22</text>
<text x="482.70" y="51.17" text-anchor="end">0.24</text>
<text x="482.70" y="31.89" text-anchor="end">0.26</text>
<text x="482.70" y="12.60" text-anchor="end">0.28</text>
<text x="574.40" y="7.20" text-anchor="middle" font-weight="bold" style="fill:#000;stroke:#000;stroke-width:0.1px">(c) PFPE Lubricant</text>
<text x="574.40" y="164.50" text-anchor="middle">Radius in downtrack direction, r<tspan dy="3.3" font-size="5.3">x</tspan><tspan dy="-3.3"> (nm)</tspan></text>
<text transform="translate(461.35,76.90) rotate(-90)" x="0" y="0" text-anchor="middle">Enhancement Factor, E<tspan dy="3.3" font-size="5.3">f</tspan></text>
<polyline points="485.5,129.9 486.7,121.1 487.9,114.0 489.1,107.9 490.2,102.5 491.4,97.6 492.6,93.1 493.8,89.1 495.0,85.4 496.2,82.0 497.4,78.8 498.5,75.9 499.7,73.2 500.9,70.7 502.1,68.4 503.3,66.2 504.5,64.1 505.7,62.1 506.8,60.3 508.0,58.6 509.2,57.0 510.4,55.4 511.6,54.0 512.8,52.6 513.9,51.3 515.1,50.1 516.3,48.9 517.5,47.7 518.7,46.7 519.9,45.7 521.1,44.7 522.2,43.7 523.4,42.9 524.6,42.0 525.8,41.2 527.0,40.4 528.2,39.6 529.4,38.9 530.5,38.2 531.7,37.6 532.9,36.9 534.1,36.3 535.3,35.7 536.5,35.2 537.7,34.6 538.8,34.1 540.0,33.6 541.2,33.1 542.4,32.6 543.6,32.2 544.8,31.7 546.0,31.3 547.1,30.9 548.3,30.5 549.5,30.1 550.7,29.7 551.9,29.4 553.1,29.0 554.2,28.7 555.4,28.4 556.6,28.1 557.8,27.8 559.0,27.5 560.2,27.2 561.4,26.9 562.5,26.7 563.7,26.4 564.9,26.1 566.1,25.9 567.3,25.7 568.5,25.4 569.7,25.2 570.8,25.0 572.0,24.8 573.2,24.6 574.4,24.4 575.6,24.2 576.8,24.0 578.0,23.9 579.1,23.7 580.3,23.5 581.5,23.4 582.7,23.2 583.9,23.1 585.1,22.9 586.3,22.8 587.4,22.6 588.6,22.5 589.8,22.4 591.0,22.3 592.2,22.1 593.4,22.0 594.6,21.9 595.7,21.8 596.9,21.7 598.1,21.6 599.3,21.5 600.5,21.4 601.7,21.3 602.8,21.2 604.0,21.1 605.2,21.0 606.4,21.0 607.6,20.9 608.8,20.8 610.0,20.7 611.1,20.7 612.3,20.6 613.5,20.5 614.7,20.5 615.9,20.4 617.1,20.3 618.3,20.3 619.4,20.2 620.6,20.2 621.8,20.1 623.0,20.1 624.2,20.0 625.4,20.0 626.6,19.9 627.7,19.9 628.9,19.9 630.1,19.8 631.3,19.8 632.5,19.8 633.7,19.7 634.9,19.7 636.0,19.7 637.2,19.6 638.4,19.6 639.6,19.6 640.8,19.6 642.0,19.6 643.1,19.5 644.3,19.5 645.5,19.5 646.7,19.5 647.9,19.5 649.1,19.5 650.3,19.4 651.4,19.4 652.6,19.4 653.8,19.4 655.0,19.4 656.2,19.4 657.4,19.4 658.6,19.4 659.7,19.4 660.9,19.4 662.1,19.4 663.3,19.4" fill="none" stroke="#0072BD" stroke-width="1.3" stroke-linejoin="round"/>
<polyline points="485.5,129.9 486.7,122.6 487.9,116.3 489.1,110.8 490.2,105.8 491.4,101.1 492.6,96.9 493.8,93.0 495.0,89.4 496.2,86.0 497.4,82.8 498.5,79.9 499.7,77.2 500.9,74.6 502.1,72.2 503.3,70.0 504.5,67.9 505.7,65.9 506.8,64.0 508.0,62.2 509.2,60.6 510.4,59.0 511.6,57.5 512.8,56.1 513.9,54.8 515.1,53.5 516.3,52.3 517.5,51.2 518.7,50.1 519.9,49.1 521.1,48.1 522.2,47.2 523.4,46.3 524.6,45.5 525.8,44.7 527.0,43.9 528.2,43.2 529.4,42.5 530.5,41.8 531.7,41.2 532.9,40.5 534.1,40.0 535.3,39.4 536.5,38.9 537.7,38.4 538.8,37.9 540.0,37.4 541.2,36.9 542.4,36.5 543.6,36.1 544.8,35.7 546.0,35.3 547.1,34.9 548.3,34.5 549.5,34.2 550.7,33.9 551.9,33.5 553.1,33.2 554.2,32.9 555.4,32.6 556.6,32.3 557.8,32.1 559.0,31.8 560.2,31.5 561.4,31.3 562.5,31.1 563.7,30.8 564.9,30.6 566.1,30.4 567.3,30.2 568.5,29.9 569.7,29.7 570.8,29.5 572.0,29.4 573.2,29.2 574.4,29.0 575.6,28.8 576.8,28.6 578.0,28.5 579.1,28.3 580.3,28.1 581.5,28.0 582.7,27.8 583.9,27.7 585.1,27.5 586.3,27.4 587.4,27.3 588.6,27.1 589.8,27.0 591.0,26.9 592.2,26.7 593.4,26.6 594.6,26.5 595.7,26.4 596.9,26.3 598.1,26.1 599.3,26.0 600.5,25.9 601.7,25.8 602.8,25.7 604.0,25.6 605.2,25.5 606.4,25.4 607.6,25.3 608.8,25.2 610.0,25.1 611.1,25.0 612.3,24.9 613.5,24.8 614.7,24.7 615.9,24.7 617.1,24.6 618.3,24.5 619.4,24.4 620.6,24.3 621.8,24.2 623.0,24.2 624.2,24.1 625.4,24.0 626.6,23.9 627.7,23.9 628.9,23.8 630.1,23.7 631.3,23.6 632.5,23.6 633.7,23.5 634.9,23.4 636.0,23.4 637.2,23.3 638.4,23.2 639.6,23.2 640.8,23.1 642.0,23.1 643.1,23.0 644.3,22.9 645.5,22.9 646.7,22.8 647.9,22.8 649.1,22.7 650.3,22.6 651.4,22.6 652.6,22.5 653.8,22.5 655.0,22.4 656.2,22.4 657.4,22.3 658.6,22.3 659.7,22.2 660.9,22.2 662.1,22.1 663.3,22.1" fill="none" stroke="#D95319" stroke-width="1.3" stroke-linejoin="round"/>
<polyline points="485.5,129.9 486.7,123.1 487.9,117.2 489.1,111.9 490.2,107.0 491.4,102.5 492.6,98.3 493.8,94.4 495.0,90.8 496.2,87.5 497.4,84.3 498.5,81.4 499.7,78.7 500.9,76.1 502.1,73.7 503.3,71.4 504.5,69.3 505.7,67.3 506.8,65.4 508.0,63.6 509.2,61.9 510.4,60.3 511.6,58.8 512.8,57.4 513.9,56.1 515.1,54.8 516.3,53.6 517.5,52.5 518.7,51.4 519.9,50.4 521.1,49.4 522.2,48.5 523.4,47.6 524.6,46.7 525.8,45.9 527.0,45.2 528.2,44.5 529.4,43.8 530.5,43.1 531.7,42.5 532.9,41.9 534.1,41.3 535.3,40.8 536.5,40.3 537.7,39.7 538.8,39.3 540.0,38.8 541.2,38.4 542.4,37.9 543.6,37.5 544.8,37.1 546.0,36.8 547.1,36.4 548.3,36.1 549.5,35.7 550.7,35.4 551.9,35.1 553.1,34.8 554.2,34.5 555.4,34.2 556.6,33.9 557.8,33.7 559.0,33.4 560.2,33.2 561.4,32.9 562.5,32.7 563.7,32.5 564.9,32.2 566.1,32.0 567.3,31.8 568.5,31.6 569.7,31.4 570.8,31.2 572.0,31.1 573.2,30.9 574.4,30.7 575.6,30.5 576.8,30.3 578.0,30.2 579.1,30.0 580.3,29.9 581.5,29.7 582.7,29.6 583.9,29.4 585.1,29.3 586.3,29.1 587.4,29.0 588.6,28.8 589.8,28.7 591.0,28.6 592.2,28.5 593.4,28.3 594.6,28.2 595.7,28.1 596.9,28.0 598.1,27.8 599.3,27.7 600.5,27.6 601.7,27.5 602.8,27.4 604.0,27.3 605.2,27.2 606.4,27.1 607.6,26.9 608.8,26.8 610.0,26.7 611.1,26.6 612.3,26.5 613.5,26.4 614.7,26.3 615.9,26.2 617.1,26.2 618.3,26.1 619.4,26.0 620.6,25.9 621.8,25.8 623.0,25.7 624.2,25.6 625.4,25.5 626.6,25.4 627.7,25.3 628.9,25.3 630.1,25.2 631.3,25.1 632.5,25.0 633.7,24.9 634.9,24.8 636.0,24.8 637.2,24.7 638.4,24.6 639.6,24.5 640.8,24.4 642.0,24.4 643.1,24.3 644.3,24.2 645.5,24.1 646.7,24.1 647.9,24.0 649.1,23.9 650.3,23.8 651.4,23.8 652.6,23.7 653.8,23.6 655.0,23.5 656.2,23.5 657.4,23.4 658.6,23.3 659.7,23.3 660.9,23.2 662.1,23.1 663.3,23.1" fill="none" stroke="#EDB120" stroke-width="1.3" stroke-linejoin="round"/>
<polyline points="485.5,129.9 486.7,123.7 487.9,118.1 489.1,112.9 490.2,108.2 491.4,103.8 492.6,99.7 493.8,95.9 495.0,92.3 496.2,89.0 497.4,85.8 498.5,82.9 499.7,80.1 500.9,77.5 502.1,75.1 503.3,72.8 504.5,70.7 505.7,68.7 506.8,66.7 508.0,64.9 509.2,63.2 510.4,61.6 511.6,60.1 512.8,58.7 513.9,57.4 515.1,56.1 516.3,54.9 517.5,53.7 518.7,52.7 519.9,51.6 521.1,50.7 522.2,49.7 523.4,48.9 524.6,48.0 525.8,47.2 527.0,46.5 528.2,45.8 529.4,45.1 530.5,44.4 531.7,43.8 532.9,43.2 534.1,42.7 535.3,42.1 536.5,41.6 537.7,41.1 538.8,40.7 540.0,40.2 541.2,39.8 542.4,39.4 543.6,39.0 544.8,38.6 546.0,38.2 547.1,37.9 548.3,37.6 549.5,37.2 550.7,36.9 551.9,36.6 553.1,36.3 554.2,36.1 555.4,35.8 556.6,35.5 557.8,35.3 559.0,35.0 560.2,34.8 561.4,34.6 562.5,34.3 563.7,34.1 564.9,33.9 566.1,33.7 567.3,33.5 568.5,33.3 569.7,33.1 570.8,32.9 572.0,32.7 573.2,32.6 574.4,32.4 575.6,32.2 576.8,32.1 578.0,31.9 579.1,31.7 580.3,31.6 581.5,31.4 582.7,31.3 583.9,31.1 585.1,31.0 586.3,30.8 587.4,30.7 588.6,30.6 589.8,30.4 591.0,30.3 592.2,30.2 593.4,30.0 594.6,29.9 595.7,29.8 596.9,29.7 598.1,29.5 599.3,29.4 600.5,29.3 601.7,29.2 602.8,29.1 604.0,28.9 605.2,28.8 606.4,28.7 607.6,28.6 608.8,28.5 610.0,28.4 611.1,28.3 612.3,28.2 613.5,28.0 614.7,27.9 615.9,27.8 617.1,27.7 618.3,27.6 619.4,27.5 620.6,27.4 621.8,27.3 623.0,27.2 624.2,27.1 625.4,27.0 626.6,26.9 627.7,26.8 628.9,26.7 630.1,26.6 631.3,26.5 632.5,26.4 633.7,26.3 634.9,26.2 636.0,26.1 637.2,26.0 638.4,25.9 639.6,25.9 640.8,25.8 642.0,25.7 643.1,25.6 644.3,25.5 645.5,25.4 646.7,25.3 647.9,25.2 649.1,25.1 650.3,25.0 651.4,24.9 652.6,24.8 653.8,24.8 655.0,24.7 656.2,24.6 657.4,24.5 658.6,24.4 659.7,24.3 660.9,24.2 662.1,24.1 663.3,24.1" fill="none" stroke="#7E2F8E" stroke-width="1.3" stroke-linejoin="round"/>
<polyline points="485.5,129.9 486.7,124.0 487.9,118.6 489.1,113.5 490.2,108.9 491.4,104.5 492.6,100.5 493.8,96.7 495.0,93.1 496.2,89.8 497.4,86.7 498.5,83.7 499.7,81.0 500.9,78.4 502.1,75.9 503.3,73.6 504.5,71.5 505.7,69.4 506.8,67.5 508.0,65.7 509.2,64.0 510.4,62.4 511.6,60.9 512.8,59.4 513.9,58.1 515.1,56.8 516.3,55.6 517.5,54.5 518.7,53.4 519.9,52.3 521.1,51.4 522.2,50.4 523.4,49.6 524.6,48.7 525.8,48.0 527.0,47.2 528.2,46.5 529.4,45.8 530.5,45.2 531.7,44.6 532.9,44.0 534.1,43.4 535.3,42.9 536.5,42.4 537.7,41.9 538.8,41.5 540.0,41.0 541.2,40.6 542.4,40.2 543.6,39.8 544.8,39.4 546.0,39.1 547.1,38.7 548.3,38.4 549.5,38.1 550.7,37.8 551.9,37.5 553.1,37.2 554.2,36.9 555.4,36.7 556.6,36.4 557.8,36.2 559.0,35.9 560.2,35.7 561.4,35.5 562.5,35.3 563.7,35.0 564.9,34.8 566.1,34.6 567.3,34.4 568.5,34.2 569.7,34.1 570.8,33.9 572.0,33.7 573.2,33.5 574.4,33.4 575.6,33.2 576.8,33.0 578.0,32.9 579.1,32.7 580.3,32.5 581.5,32.4 582.7,32.2 583.9,32.1 585.1,32.0 586.3,31.8 587.4,31.7 588.6,31.5 589.8,31.4 591.0,31.3 592.2,31.1 593.4,31.0 594.6,30.9 595.7,30.7 596.9,30.6 598.1,30.5 599.3,30.4 600.5,30.2 601.7,30.1 602.8,30.0 604.0,29.9 605.2,29.8 606.4,29.6 607.6,29.5 608.8,29.4 610.0,29.3 611.1,29.2 612.3,29.1 613.5,29.0 614.7,28.8 615.9,28.7 617.1,28.6 618.3,28.5 619.4,28.4 620.6,28.3 621.8,28.2 623.0,28.1 624.2,28.0 625.4,27.9 626.6,27.7 627.7,27.6 628.9,27.5 630.1,27.4 631.3,27.3 632.5,27.2 633.7,27.1 634.9,27.0 636.0,26.9 637.2,26.8 638.4,26.7 639.6,26.6 640.8,26.5 642.0,26.4 643.1,26.3 644.3,26.2 645.5,26.1 646.7,26.0 647.9,25.9 649.1,25.8 650.3,25.7 651.4,25.6 652.6,25.5 653.8,25.4 655.0,25.3 656.2,25.2 657.4,25.1 658.6,25.0 659.7,24.9 660.9,24.8 662.1,24.7 663.3,24.6" fill="none" stroke="#77AC30" stroke-width="1.3" stroke-linejoin="round"/>
<polyline points="485.5,129.9 486.7,124.2 487.9,119.0 489.1,114.1 490.2,109.5 491.4,105.2 492.6,101.2 493.8,97.4 495.0,93.9 496.2,90.5 497.4,87.4 498.5,84.5 499.7,81.7 500.9,79.1 502.1,76.6 503.3,74.3 504.5,72.2 505.7,70.1 506.8,68.2 508.0,66.4 509.2,64.7 510.4,63.1 511.6,61.5 512.8,60.1 513.9,58.7 515.1,57.4 516.3,56.2 517.5,55.1 518.7,54.0 519.9,53.0 521.1,52.0 522.2,51.1 523.4,50.2 524.6,49.4 525.8,48.6 527.0,47.9 528.2,47.2 529.4,46.5 530.5,45.9 531.7,45.2 532.9,44.7 534.1,44.1 535.3,43.6 536.5,43.1 537.7,42.6 538.8,42.2 540.0,41.7 541.2,41.3 542.4,40.9 543.6,40.5 544.8,40.2 546.0,39.8 547.1,39.5 548.3,39.2 549.5,38.9 550.7,38.6 551.9,38.3 553.1,38.0 554.2,37.7 555.4,37.5 556.6,37.2 557.8,37.0 559.0,36.7 560.2,36.5 561.4,36.3 562.5,36.1 563.7,35.9 564.9,35.7 566.1,35.5 567.3,35.3 568.5,35.1 569.7,34.9 570.8,34.7 572.0,34.5 573.2,34.4 574.4,34.2 575.6,34.0 576.8,33.9 578.0,33.7 579.1,33.6 580.3,33.4 581.5,33.3 582.7,33.1 583.9,33.0 585.1,32.8 586.3,32.7 587.4,32.5 588.6,32.4 589.8,32.3 591.0,32.1 592.2,32.0 593.4,31.9 594.6,31.7 595.7,31.6 596.9,31.5 598.1,31.3 599.3,31.2 600.5,31.1 601.7,31.0 602.8,30.8 604.0,30.7 605.2,30.6 606.4,30.5 607.6,30.3 608.8,30.2 610.0,30.1 611.1,30.0 612.3,29.9 613.5,29.8 614.7,29.6 615.9,29.5 617.1,29.4 618.3,29.3 619.4,29.2 620.6,29.1 621.8,28.9 623.0,28.8 624.2,28.7 625.4,28.6 626.6,28.5 627.7,28.4 628.9,28.3 630.1,28.2 631.3,28.0 632.5,27.9 633.7,27.8 634.9,27.7 636.0,27.6 637.2,27.5 638.4,27.4 639.6,27.3 640.8,27.2 642.0,27.1 643.1,26.9 644.3,26.8 645.5,26.7 646.7,26.6 647.9,26.5 649.1,26.4 650.3,26.3 651.4,26.2 652.6,26.1 653.8,26.0 655.0,25.9 656.2,25.8 657.4,25.6 658.6,25.5 659.7,25.4 660.9,25.3 662.1,25.2 663.3,25.1" fill="none" stroke="#4DBEEE" stroke-width="1.3" stroke-linejoin="round"/>
<polyline points="485.5,129.9 486.7,124.5 487.9,119.4 489.1,114.6 490.2,110.1 491.4,105.9 492.6,101.9 493.8,98.1 495.0,94.6 496.2,91.3 497.4,88.1 498.5,85.2 499.7,82.4 500.9,79.8 502.1,77.4 503.3,75.1 504.5,72.9 505.7,70.8 506.8,68.9 508.0,67.1 509.2,65.3 510.4,63.7 511.6,62.2 512.8,60.7 513.9,59.4 515.1,58.1 516.3,56.9 517.5,55.7 518.7,54.6 519.9,53.6 521.1,52.6 522.2,51.7 523.4,50.9 524.6,50.0 525.8,49.3 527.0,48.5 528.2,47.8 529.4,47.1 530.5,46.5 531.7,45.9 532.9,45.3 534.1,44.8 535.3,44.3 536.5,43.8 537.7,43.3 538.8,42.9 540.0,42.4 541.2,42.0 542.4,41.6 543.6,41.3 544.8,40.9 546.0,40.6 547.1,40.2 548.3,39.9 549.5,39.6 550.7,39.3 551.9,39.0 553.1,38.8 554.2,38.5 555.4,38.3 556.6,38.0 557.8,37.8 559.0,37.5 560.2,37.3 561.4,37.1 562.5,36.9 563.7,36.7 564.9,36.5 566.1,36.3 567.3,36.1 568.5,35.9 569.7,35.7 570.8,35.6 572.0,35.4 573.2,35.2 574.4,35.1 575.6,34.9 576.8,34.7 578.0,34.6 579.1,34.4 580.3,34.3 581.5,34.1 582.7,34.0 583.9,33.8 585.1,33.7 586.3,33.5 587.4,33.4 588.6,33.3 589.8,33.1 591.0,33.0 592.2,32.8 593.4,32.7 594.6,32.6 595.7,32.4 596.9,32.3 598.1,32.2 599.3,32.1 600.5,31.9 601.7,31.8 602.8,31.7 604.0,31.5 605.2,31.4 606.4,31.3 607.6,31.2 608.8,31.0 610.0,30.9 611.1,30.8 612.3,30.7 613.5,30.6 614.7,30.4 615.9,30.3 617.1,30.2 618.3,30.1 619.4,30.0 620.6,29.8 621.8,29.7 623.0,29.6 624.2,29.5 625.4,29.4 626.6,29.2 627.7,29.1 628.9,29.0 630.1,28.9 631.3,28.8 632.5,28.6 633.7,28.5 634.9,28.4 636.0,28.3 637.2,28.2 638.4,28.1 639.6,27.9 640.8,27.8 642.0,27.7 643.1,27.6 644.3,27.5 645.5,27.4 646.7,27.2 647.9,27.1 649.1,27.0 650.3,26.9 651.4,26.8 652.6,26.7 653.8,26.5 655.0,26.4 656.2,26.3 657.4,26.2 658.6,26.1 659.7,26.0 660.9,25.8 662.1,25.7 663.3,25.6" fill="none" stroke="#A2142F" stroke-width="1.3" stroke-linejoin="round"/>
<rect x="591.20" y="55.50" width="55.30" height="86.50" fill="#fff" stroke="#8c8c8c" stroke-width="0.7"/>
<line x1="593.20" y1="62.30" x2="609.40" y2="62.30" stroke="#0072BD" stroke-width="1.3"/>
<text x="610.60" y="64.10">r<tspan dy="3.2" dx="0.2" font-size="5.7">y</tspan><tspan dy="-3.2" dx="0.6"> = 2 nm</tspan></text>
<line x1="593.20" y1="74.55" x2="609.40" y2="74.55" stroke="#D95319" stroke-width="1.3"/>
<text x="610.60" y="76.35">r<tspan dy="3.2" dx="0.2" font-size="5.7">y</tspan><tspan dy="-3.2" dx="0.6"> = 4 nm</tspan></text>
<line x1="593.20" y1="86.80" x2="609.40" y2="86.80" stroke="#EDB120" stroke-width="1.3"/>
<text x="610.60" y="88.60">r<tspan dy="3.2" dx="0.2" font-size="5.7">y</tspan><tspan dy="-3.2" dx="0.6"> = 6 nm</tspan></text>
<line x1="593.20" y1="99.05" x2="609.40" y2="99.05" stroke="#7E2F8E" stroke-width="1.3"/>
<text x="610.60" y="100.85">r<tspan dy="3.2" dx="0.2" font-size="5.7">y</tspan><tspan dy="-3.2" dx="0.6"> = 8 nm</tspan></text>
<line x1="593.20" y1="111.30" x2="609.40" y2="111.30" stroke="#77AC30" stroke-width="1.3"/>
<text x="610.60" y="113.10">r<tspan dy="3.2" dx="0.2" font-size="5.7">y</tspan><tspan dy="-3.2" dx="0.6"> = 10 nm</tspan></text>
<line x1="593.20" y1="123.55" x2="609.40" y2="123.55" stroke="#4DBEEE" stroke-width="1.3"/>
<text x="610.60" y="125.35">r<tspan dy="3.2" dx="0.2" font-size="5.7">y</tspan><tspan dy="-3.2" dx="0.6"> = 12 nm</tspan></text>
<line x1="593.20" y1="135.80" x2="609.40" y2="135.80" stroke="#A2142F" stroke-width="1.3"/>
<text x="610.60" y="137.60">r<tspan dy="3.2" dx="0.2" font-size="5.7">y</tspan><tspan dy="-3.2" dx="0.6"> = 14 nm</tspan></text>
<path d="M25.00,182.30V320.50H203.00" fill="none" stroke="#a8a8a8" stroke-width="1"/>
<path d="M25.00,320.50v-1.8M60.60,320.50v-1.8M96.20,320.50v-1.8M131.80,320.50v-1.8M167.40,320.50v-1.8M203.00,320.50v-1.8M25.00,320.50h1.8M25.00,303.23h1.8M25.00,285.95h1.8M25.00,268.68h1.8M25.00,251.40h1.8M25.00,234.12h1.8M25.00,216.85h1.8M25.00,199.58h1.8M25.00,182.30h1.8" stroke="#a8a8a8" stroke-width="0.6" fill="none"/>
<text x="25.00" y="330.90" text-anchor="middle">0</text>
<text x="60.60" y="330.90" text-anchor="middle">0.2</text>
<text x="96.20" y="330.90" text-anchor="middle">0.4</text>
<text x="131.80" y="330.90" text-anchor="middle">0.6</text>
<text x="167.40" y="330.90" text-anchor="middle">0.8</text>
<text x="203.00" y="330.90" text-anchor="middle">1</text>
<text x="22.20" y="323.70" text-anchor="end">-7</text>
<text x="22.20" y="306.43" text-anchor="end">-6</text>
<text x="22.20" y="289.15" text-anchor="end">-5</text>
<text x="22.20" y="271.88" text-anchor="end">-4</text>
<text x="22.20" y="254.60" text-anchor="end">-3</text>
<text x="22.20" y="237.32" text-anchor="end">-2</text>
<text x="22.20" y="220.05" text-anchor="end">-1</text>
<text x="22.20" y="202.78" text-anchor="end">0</text>
<text x="22.20" y="185.50" text-anchor="end">1</text>
<text x="114.00" y="180.10" text-anchor="middle" font-weight="bold" style="fill:#000;stroke:#000;stroke-width:0.1px">(d) Down-track direction</text>
<text x="114.00" y="340.60" text-anchor="middle">Normalized downtrack</text>
<text transform="translate(12.20,251.40) rotate(-90)" x="0" y="0" text-anchor="middle">Normalized Potential Well</text>
<polyline points="25.0,199.6 25.4,199.6 25.7,199.6 26.1,199.7 26.4,199.7 26.8,199.7 27.1,199.8 27.5,199.8 27.8,199.8 28.2,199.9 28.6,199.9 28.9,199.9 29.3,200.0 29.6,200.0 30.0,200.0 30.3,200.1 30.7,200.1 31.0,200.1 31.4,200.2 31.8,200.2 32.1,200.2 32.5,200.3 32.8,200.3 33.2,200.3 33.5,200.4 33.9,200.4 34.2,200.5 34.6,200.5 34.9,200.5 35.3,200.6 35.7,200.6 36.0,200.6 36.4,200.7 36.7,200.7 37.1,200.7 37.4,200.8 37.8,200.8 38.1,200.8 38.5,200.9 38.9,200.9 39.2,200.9 39.6,201.0 39.9,201.0 40.3,201.0 40.6,201.1 41.0,201.1 41.3,201.2 41.7,201.2 42.1,201.2 42.4,201.3 42.8,201.3 43.1,201.3 43.5,201.4 43.8,201.4 44.2,201.4 44.5,201.5 44.9,201.5 45.3,201.6 45.6,201.6 46.0,201.6 46.3,201.7 46.7,201.7 47.0,201.7 47.4,201.8 47.7,201.8 48.1,201.8 48.4,201.9 48.8,201.9 49.2,201.9 49.5,202.0 49.9,202.0 50.2,202.1 50.6,202.1 50.9,202.1 51.3,202.2 51.6,202.2 52.0,202.2 52.4,202.3 52.7,202.3 53.1,202.3 53.4,202.4 53.8,202.4 54.1,202.5 54.5,202.5 54.8,202.5 55.2,202.6 55.6,202.6 55.9,202.6 56.3,202.7 56.6,202.7 57.0,202.7 57.3,202.8 57.7,202.8 58.0,202.9 58.4,202.9 58.8,202.9 59.1,203.0 59.5,203.0 59.8,203.1 60.2,203.1 60.5,203.1 60.9,203.2 61.2,203.2 61.6,203.2 61.9,203.3 62.3,203.3 62.7,203.4 63.0,203.4 63.4,203.4 63.7,203.5 64.1,203.5 64.4,203.6 64.8,203.6 65.1,203.6 65.5,203.7 65.9,203.7 66.2,203.8 66.6,203.8 66.9,203.9 67.3,203.9 67.6,203.9 68.0,204.0 68.3,204.0 68.7,204.1 69.1,204.1 69.4,204.2 69.8,204.2 70.1,204.3 70.5,204.3 70.8,204.3 71.2,204.4 71.5,204.5 71.9,204.5 72.3,204.6 72.6,204.6 73.0,204.7 73.3,204.8 73.7,204.8 74.0,204.9 74.4,205.0 74.7,205.1 75.1,205.1 75.5,205.2 75.8,205.3 76.2,205.3 76.5,205.4 76.9,205.4 77.2,205.5 77.6,205.6 77.9,205.6 78.3,205.7 78.6,205.7 79.0,205.8 79.4,205.8 79.7,205.8 80.1,205.9 80.4,205.9 80.8,205.9 81.1,205.9 81.5,206.0 81.8,206.0 82.2,206.0 82.6,206.0 82.9,206.0 83.3,206.0 83.6,206.0 84.0,205.9 84.3,205.9 84.7,205.9 85.0,205.9 85.4,205.9 85.8,205.9 86.1,205.9 86.5,205.9 86.8,205.9 87.2,205.9 87.5,205.8 87.9,205.8 88.2,205.8 88.6,205.8 89.0,205.8 89.3,205.8 89.7,205.8 90.0,205.7 90.4,205.7 90.7,205.7 91.1,205.7 91.4,205.7 91.8,205.7 92.1,205.7 92.5,205.6 92.9,205.6 93.2,205.6 93.6,205.6 93.9,205.6 94.3,205.6 94.6,205.6 95.0,205.5 95.3,205.5 95.7,205.5 96.1,205.5 96.4,205.5 96.8,205.5 97.1,205.5 97.5,205.5 97.8,205.5 98.2,205.5 98.5,205.5 98.9,205.5 99.3,205.5 99.6,205.4 100.0,205.4 100.3,205.4 100.7,205.4 101.0,205.4 101.4,205.4 101.7,205.4 102.1,205.4 102.5,205.4 102.8,205.4 103.2,205.4 103.5,205.4 103.9,205.4 104.2,205.4 104.6,205.4 104.9,205.4 105.3,205.4 105.7,205.4 106.0,205.4 106.4,205.4 106.7,205.4 107.1,205.4 107.4,205.4 107.8,205.4 108.1,205.4 108.5,205.4 108.8,205.4 109.2,205.4 109.6,205.4 109.9,205.4 110.3,205.4 110.6,205.4 111.0,205.4 111.3,205.4 111.7,205.4 112.0,205.4 112.4,205.4 112.8,205.4 113.1,205.4 113.5,205.4 113.8,205.4 114.2,205.4 114.5,205.4 114.9,205.4 115.2,205.4 115.6,205.4 116.0,205.4 116.3,205.4 116.7,205.4 117.0,205.4 117.4,205.4 117.7,205.4 118.1,205.4 118.4,205.4 118.8,205.4 119.2,205.4 119.5,205.4 119.9,205.4 120.2,205.4 120.6,205.4 120.9,205.4 121.3,205.4 121.6,205.4 122.0,205.4 122.3,205.4 122.7,205.4 123.1,205.4 123.4,205.4 123.8,205.4 124.1,205.4 124.5,205.4 124.8,205.4 125.2,205.4 125.5,205.4 125.9,205.4 126.3,205.4 126.6,205.4 127.0,205.4 127.3,205.4 127.7,205.4 128.0,205.4 128.4,205.4 128.7,205.4 129.1,205.4 129.5,205.4 129.8,205.4 130.2,205.4 130.5,205.4 130.9,205.4 131.2,205.4 131.6,205.4 131.9,205.4 132.3,205.4 132.7,205.4 133.0,205.4 133.4,205.4 133.7,205.4 134.1,205.4 134.4,205.4 134.8,205.4 135.1,205.4 135.5,205.4 135.8,205.4 136.2,205.4 136.6,205.4 136.9,205.4 137.3,205.4 137.6,205.5 138.0,205.5 138.3,205.5 138.7,205.5 139.0,205.6 139.4,205.6 139.8,205.7 140.1,205.7 140.5,205.8 140.8,205.9 141.2,206.0 141.5,206.1 141.9,206.2 142.2,206.3 142.6,206.4 143.0,206.5 143.3,206.6 143.7,206.7 144.0,206.8 144.4,206.9 144.7,207.0 145.1,207.2 145.4,207.4 145.8,207.6 146.2,207.8 146.5,208.1 146.9,208.4 147.2,208.6 147.6,208.9 147.9,209.2 148.3,209.6 148.6,209.9 149.0,210.2 149.4,210.5 149.7,210.8 150.1,211.1 150.4,211.3 150.8,211.6 151.1,211.8 151.5,212.1 151.8,212.4 152.2,212.7 152.5,213.0 152.9,213.2 153.3,213.5 153.6,213.7 154.0,214.0 154.3,214.1 154.7,214.3 155.0,214.4 155.4,214.4 155.7,214.4 156.1,214.4 156.5,214.2 156.8,214.1 157.2,213.9 157.5,213.6 157.9,213.4 158.2,213.1 158.6,212.8 158.9,212.4 159.3,212.0 159.7,211.7 160.0,211.3 160.4,210.9 160.7,210.5 161.1,210.0 161.4,209.6 161.8,209.0 162.1,208.3 162.5,207.6 162.9,206.9 163.2,206.3 163.6,205.9 163.9,205.5 164.3,205.2 164.6,204.8 165.0,204.5 165.3,204.2 165.7,203.9 166.0,203.6 166.4,203.4 166.8,203.2 167.1,203.0 167.5,202.8 167.8,202.7 168.2,202.5 168.5,202.5 168.9,202.4 169.2,202.3 169.6,202.2 170.0,202.1 170.3,202.1 170.7,202.0 171.0,201.9 171.4,201.9 171.7,201.8 172.1,201.8 172.4,201.7 172.8,201.7 173.2,201.6 173.5,201.6 173.9,201.5 174.2,201.5 174.6,201.4 174.9,201.4 175.3,201.4 175.6,201.3 176.0,201.3 176.4,201.2 176.7,201.2 177.1,201.2 177.4,201.1 177.8,201.1 178.1,201.1 178.5,201.1 178.8,201.0 179.2,201.0 179.5,201.0 179.9,200.9 180.3,200.9 180.6,200.9 181.0,200.8 181.3,200.8 181.7,200.8 182.0,200.7 182.4,200.7 182.7,200.7 183.1,200.6 183.5,200.6 183.8,200.5 184.2,200.5 184.5,200.5 184.9,200.4 185.2,200.4 185.6,200.4 185.9,200.3 186.3,200.3 186.7,200.2 187.0,200.2 187.4,200.2 187.7,200.1 188.1,200.1 188.4,200.1 188.8,200.0 189.1,200.0 189.5,200.0 189.9,199.9 190.2,199.9 190.6,199.8 190.9,199.8 191.3,199.8 191.6,199.7 192.0,199.7 192.3,199.7 192.7,199.6 193.1,199.6 193.4,199.6 193.8,199.5 194.1,199.5 194.5,199.5 194.8,199.4 195.2,199.4 195.5,199.4 195.9,199.3 196.2,199.3 196.6,199.3 197.0,199.2 197.3,199.2 197.7,199.2 198.0,199.1 198.4,199.1 198.7,199.1 199.1,199.1 199.4,199.0 199.8,199.0 200.2,199.0 200.5,198.9 200.9,198.9 201.2,198.9 201.6,198.9 201.9,198.8 202.3,198.8" fill="none" stroke="#0072BD" stroke-width="1.3" stroke-linejoin="round"/>
<polyline points="25.0,199.6 25.4,199.6 25.7,199.6 26.1,199.6 26.4,199.7 26.8,199.7 27.1,199.7 27.5,199.7 27.8,199.7 28.2,199.7 28.6,199.8 28.9,199.8 29.3,199.8 29.6,199.8 30.0,199.8 30.3,199.9 30.7,199.9 31.0,199.9 31.4,199.9 31.8,199.9 32.1,200.0 32.5,200.0 32.8,200.0 33.2,200.0 33.5,200.1 33.9,200.1 34.2,200.1 34.6,200.1 34.9,200.1 35.3,200.2 35.7,200.2 36.0,200.2 36.4,200.2 36.7,200.2 37.1,200.3 37.4,200.3 37.8,200.3 38.1,200.3 38.5,200.3 38.9,200.4 39.2,200.4 39.6,200.4 39.9,200.4 40.3,200.5 40.6,200.5 41.0,200.5 41.3,200.5 41.7,200.5 42.1,200.6 42.4,200.6 42.8,200.6 43.1,200.6 43.5,200.7 43.8,200.7 44.2,200.7 44.5,200.7 44.9,200.7 45.3,200.8 45.6,200.8 46.0,200.8 46.3,200.8 46.7,200.9 47.0,200.9 47.4,200.9 47.7,200.9 48.1,200.9 48.4,201.0 48.8,201.0 49.2,201.0 49.5,201.0 49.9,201.0 50.2,201.1 50.6,201.1 50.9,201.1 51.3,201.1 51.6,201.2 52.0,201.2 52.4,201.2 52.7,201.2 53.1,201.2 53.4,201.3 53.8,201.3 54.1,201.3 54.5,201.3 54.8,201.4 55.2,201.4 55.6,201.4 55.9,201.4 56.3,201.4 56.6,201.5 57.0,201.5 57.3,201.5 57.7,201.5 58.0,201.6 58.4,201.6 58.8,201.6 59.1,201.6 59.5,201.7 59.8,201.7 60.2,201.7 60.5,201.7 60.9,201.8 61.2,201.8 61.6,201.8 61.9,201.8 62.3,201.9 62.7,201.9 63.0,201.9 63.4,201.9 63.7,202.0 64.1,202.0 64.4,202.0 64.8,202.1 65.1,202.1 65.5,202.1 65.9,202.1 66.2,202.2 66.6,202.2 66.9,202.2 67.3,202.3 67.6,202.3 68.0,202.3 68.3,202.4 68.7,202.4 69.1,202.4 69.4,202.5 69.8,202.5 70.1,202.5 70.5,202.6 70.8,202.6 71.2,202.6 71.5,202.7 71.9,202.7 72.3,202.8 72.6,202.8 73.0,202.9 73.3,203.0 73.7,203.0 74.0,203.1 74.4,203.1 74.7,203.2 75.1,203.3 75.5,203.3 75.8,203.4 76.2,203.5 76.5,203.5 76.9,203.6 77.2,203.6 77.6,203.7 77.9,203.7 78.3,203.8 78.6,203.8 79.0,203.9 79.4,203.9 79.7,204.0 80.1,204.0 80.4,204.0 80.8,204.0 81.1,204.1 81.5,204.1 81.8,204.1 82.2,204.1 82.6,204.1 82.9,204.1 83.3,204.1 83.6,204.1 84.0,204.1 84.3,204.1 84.7,204.0 85.0,204.0 85.4,204.0 85.8,204.0 86.1,204.0 86.5,204.0 86.8,204.0 87.2,204.0 87.5,204.0 87.9,204.0 88.2,204.0 88.6,204.0 89.0,204.0 89.3,203.9 89.7,203.9 90.0,203.9 90.4,203.9 90.7,203.9 91.1,203.9 91.4,203.9 91.8,203.9 92.1,203.9 92.5,203.8 92.9,203.8 93.2,203.8 93.6,203.8 93.9,203.8 94.3,203.8 94.6,203.8 95.0,203.8 95.3,203.8 95.7,203.8 96.1,203.8 96.4,203.8 96.8,203.7 97.1,203.7 97.5,203.7 97.8,203.7 98.2,203.7 98.5,203.7 98.9,203.7 99.3,203.7 99.6,203.7 100.0,203.7 100.3,203.7 100.7,203.7 101.0,203.7 101.4,203.7 101.7,203.7 102.1,203.7 102.5,203.7 102.8,203.7 103.2,203.7 103.5,203.7 103.9,203.7 104.2,203.7 104.6,203.7 104.9,203.7 105.3,203.7 105.7,203.7 106.0,203.7 106.4,203.7 106.7,203.7 107.1,203.7 107.4,203.7 107.8,203.7 108.1,203.7 108.5,203.7 108.8,203.7 109.2,203.7 109.6,203.7 109.9,203.7 110.3,203.7 110.6,203.7 111.0,203.7 111.3,203.7 111.7,203.7 112.0,203.7 112.4,203.7 112.8,203.7 113.1,203.7 113.5,203.7 113.8,203.7 114.2,203.7 114.5,203.7 114.9,203.7 115.2,203.7 115.6,203.7 116.0,203.7 116.3,203.7 116.7,203.7 117.0,203.7 117.4,203.7 117.7,203.7 118.1,203.7 118.4,203.7 118.8,203.7 119.2,203.7 119.5,203.7 119.9,203.7 120.2,203.7 120.6,203.7 120.9,203.7 121.3,203.7 121.6,203.7 122.0,203.7 122.3,203.7 122.7,203.7 123.1,203.7 123.4,203.7 123.8,203.7 124.1,203.7 124.5,203.7 124.8,203.7 125.2,203.7 125.5,203.7 125.9,203.7 126.3,203.7 126.6,203.7 127.0,203.7 127.3,203.7 127.7,203.7 128.0,203.7 128.4,203.7 128.7,203.7 129.1,203.7 129.5,203.7 129.8,203.7 130.2,203.7 130.5,203.7 130.9,203.7 131.2,203.7 131.6,203.7 131.9,203.7 132.3,203.7 132.7,203.7 133.0,203.7 133.4,203.7 133.7,203.7 134.1,203.7 134.4,203.7 134.8,203.7 135.1,203.7 135.5,203.7 135.8,203.7 136.2,203.7 136.6,203.7 136.9,203.7 137.3,203.7 137.6,203.7 138.0,203.7 138.3,203.8 138.7,203.8 139.0,203.9 139.4,203.9 139.8,204.0 140.1,204.1 140.5,204.2 140.8,204.3 141.2,204.4 141.5,204.5 141.9,204.6 142.2,204.7 142.6,204.8 143.0,204.9 143.3,205.0 143.7,205.1 144.0,205.3 144.4,205.4 144.7,205.5 145.1,205.6 145.4,205.7 145.8,205.9 146.2,206.1 146.5,206.2 146.9,206.4 147.2,206.6 147.6,206.8 147.9,206.9 148.3,207.1 148.6,207.3 149.0,207.5 149.4,207.7 149.7,207.8 150.1,208.0 150.4,208.1 150.8,208.3 151.1,208.4 151.5,208.5 151.8,208.7 152.2,208.8 152.5,209.0 152.9,209.1 153.3,209.2 153.6,209.4 154.0,209.4 154.3,209.5 154.7,209.6 155.0,209.6 155.4,209.6 155.7,209.5 156.1,209.4 156.5,209.3 156.8,209.2 157.2,209.0 157.5,208.8 157.9,208.6 158.2,208.3 158.6,208.1 158.9,207.8 159.3,207.6 159.7,207.3 160.0,207.0 160.4,206.7 160.7,206.5 161.1,206.2 161.4,205.9 161.8,205.6 162.1,205.3 162.5,205.0 162.9,204.6 163.2,204.2 163.6,203.9 163.9,203.6 164.3,203.3 164.6,203.1 165.0,202.9 165.3,202.7 165.7,202.6 166.0,202.4 166.4,202.3 166.8,202.2 167.1,202.0 167.5,201.9 167.8,201.8 168.2,201.7 168.5,201.6 168.9,201.5 169.2,201.5 169.6,201.4 170.0,201.3 170.3,201.3 170.7,201.2 171.0,201.1 171.4,201.1 171.7,201.0 172.1,201.0 172.4,200.9 172.8,200.9 173.2,200.8 173.5,200.8 173.9,200.8 174.2,200.7 174.6,200.7 174.9,200.6 175.3,200.6 175.6,200.6 176.0,200.5 176.4,200.5 176.7,200.5 177.1,200.4 177.4,200.4 177.8,200.4 178.1,200.3 178.5,200.3 178.8,200.3 179.2,200.2 179.5,200.2 179.9,200.2 180.3,200.1 180.6,200.1 181.0,200.1 181.3,200.1 181.7,200.0 182.0,200.0 182.4,200.0 182.7,200.0 183.1,199.9 183.5,199.9 183.8,199.9 184.2,199.8 184.5,199.8 184.9,199.8 185.2,199.8 185.6,199.7 185.9,199.7 186.3,199.7 186.7,199.7 187.0,199.6 187.4,199.6 187.7,199.6 188.1,199.6 188.4,199.5 188.8,199.5 189.1,199.5 189.5,199.5 189.9,199.4 190.2,199.4 190.6,199.4 190.9,199.4 191.3,199.3 191.6,199.3 192.0,199.3 192.3,199.3 192.7,199.3 193.1,199.2 193.4,199.2 193.8,199.2 194.1,199.2 194.5,199.2 194.8,199.1 195.2,199.1 195.5,199.1 195.9,199.1 196.2,199.1 196.6,199.0 197.0,199.0 197.3,199.0 197.7,199.0 198.0,199.0 198.4,198.9 198.7,198.9 199.1,198.9 199.4,198.9 199.8,198.9 200.2,198.9 200.5,198.9 200.9,198.8 201.2,198.8 201.6,198.8 201.9,198.8 202.3,198.8" fill="none" stroke="#D95319" stroke-width="1.3" stroke-linejoin="round"/>
<polyline points="25.0,199.6 25.4,199.6 25.7,199.6 26.1,199.6 26.4,199.6 26.8,199.6 27.1,199.6 27.5,199.6 27.8,199.6 28.2,199.6 28.6,199.7 28.9,199.7 29.3,199.8 29.6,199.9 30.0,200.0 30.3,200.1 30.7,200.3 31.0,200.5 31.4,200.7 31.8,201.1 32.1,201.6 32.5,202.2 32.8,202.8 33.2,203.4 33.5,204.0 33.9,204.6 34.2,205.1 34.6,205.6 34.9,206.2 35.3,206.7 35.7,207.3 36.0,207.8 36.4,208.4 36.7,208.9 37.1,209.4 37.4,209.9 37.8,210.5 38.1,211.0 38.5,211.4 38.9,211.9 39.2,212.4 39.6,212.9 39.9,213.4 40.3,213.9 40.6,214.4 41.0,214.8 41.3,215.3 41.7,215.7 42.1,216.1 42.4,216.5 42.8,216.9 43.1,217.2 43.5,217.5 43.8,217.8 44.2,218.2 44.5,218.5 44.9,218.8 45.3,219.2 45.6,219.6 46.0,220.0 46.3,220.4 46.7,220.8 47.0,221.2 47.4,221.6 47.7,221.9 48.1,222.2 48.4,222.4 48.8,222.7 49.2,222.9 49.5,223.1 49.9,223.3 50.2,223.5 50.6,223.6 50.9,223.8 51.3,224.0 51.6,224.2 52.0,224.4 52.4,224.7 52.7,224.9 53.1,225.2 53.4,225.4 53.8,225.7 54.1,226.0 54.5,226.3 54.8,226.6 55.2,226.9 55.6,227.2 55.9,227.5 56.3,227.8 56.6,228.1 57.0,228.4 57.3,228.8 57.7,229.1 58.0,229.5 58.4,229.8 58.8,230.2 59.1,230.6 59.5,231.0 59.8,231.3 60.2,231.7 60.5,232.0 60.9,232.4 61.2,232.7 61.6,233.0 61.9,233.4 62.3,233.7 62.7,234.0 63.0,234.3 63.4,234.6 63.7,234.9 64.1,235.3 64.4,235.6 64.8,235.9 65.1,236.2 65.5,236.5 65.9,236.8 66.2,237.1 66.6,237.4 66.9,237.7 67.3,238.0 67.6,238.3 68.0,238.6 68.3,238.9 68.7,239.2 69.1,239.6 69.4,239.9 69.8,240.3 70.1,240.6 70.5,241.0 70.8,241.5 71.2,241.9 71.5,242.4 71.9,242.8 72.3,243.3 72.6,243.7 73.0,244.2 73.3,244.6 73.7,245.0 74.0,245.5 74.4,245.9 74.7,246.3 75.1,246.7 75.5,247.1 75.8,247.5 76.2,247.9 76.5,248.3 76.9,248.7 77.2,249.1 77.6,249.4 77.9,249.7 78.3,250.1 78.6,250.4 79.0,250.7 79.4,251.0 79.7,251.2 80.1,251.5 80.4,251.7 80.8,251.9 81.1,252.1 81.5,252.3 81.8,252.4 82.2,252.4 82.6,252.4 82.9,252.4 83.3,252.3 83.6,252.3 84.0,252.2 84.3,252.1 84.7,251.9 85.0,251.8 85.4,251.7 85.8,251.5 86.1,251.4 86.5,251.2 86.8,251.1 87.2,250.9 87.5,250.8 87.9,250.6 88.2,250.4 88.6,250.3 89.0,250.2 89.3,250.0 89.7,249.9 90.0,249.8 90.4,249.7 90.7,249.6 91.1,249.5 91.4,249.5 91.8,249.4 92.1,249.3 92.5,249.2 92.9,249.1 93.2,249.0 93.6,248.9 93.9,248.8 94.3,248.7 94.6,248.6 95.0,248.6 95.3,248.5 95.7,248.4 96.1,248.3 96.4,248.3 96.8,248.2 97.1,248.1 97.5,248.1 97.8,248.0 98.2,247.9 98.5,247.9 98.9,247.8 99.3,247.8 99.6,247.7 100.0,247.7 100.3,247.7 100.7,247.6 101.0,247.6 101.4,247.5 101.7,247.5 102.1,247.5 102.5,247.4 102.8,247.4 103.2,247.3 103.5,247.3 103.9,247.3 104.2,247.2 104.6,247.2 104.9,247.2 105.3,247.1 105.7,247.1 106.0,247.0 106.4,247.0 106.7,247.0 107.1,246.9 107.4,246.9 107.8,246.9 108.1,246.9 108.5,246.8 108.8,246.8 109.2,246.8 109.6,246.8 109.9,246.7 110.3,246.7 110.6,246.7 111.0,246.7 111.3,246.7 111.7,246.6 112.0,246.6 112.4,246.6 112.8,246.6 113.1,246.6 113.5,246.6 113.8,246.6 114.2,246.6 114.5,246.6 114.9,246.6 115.2,246.6 115.6,246.6 116.0,246.6 116.3,246.6 116.7,246.6 117.0,246.7 117.4,246.7 117.7,246.7 118.1,246.8 118.4,246.8 118.8,246.9 119.2,246.9 119.5,247.0 119.9,247.0 120.2,247.0 120.6,247.1 120.9,247.1 121.3,247.2 121.6,247.2 122.0,247.3 122.3,247.3 122.7,247.4 123.1,247.4 123.4,247.4 123.8,247.5 124.1,247.5 124.5,247.6 124.8,247.6 125.2,247.6 125.5,247.7 125.9,247.7 126.3,247.8 126.6,247.8 127.0,247.9 127.3,247.9 127.7,248.0 128.0,248.0 128.4,248.1 128.7,248.1 129.1,248.2 129.5,248.2 129.8,248.3 130.2,248.3 130.5,248.4 130.9,248.4 131.2,248.5 131.6,248.5 131.9,248.6 132.3,248.6 132.7,248.7 133.0,248.7 133.4,248.8 133.7,248.9 134.1,248.9 134.4,249.0 134.8,249.0 135.1,249.1 135.5,249.1 135.8,249.2 136.2,249.2 136.6,249.3 136.9,249.4 137.3,249.4 137.6,249.5 138.0,249.6 138.3,249.7 138.7,249.8 139.0,249.9 139.4,250.1 139.8,250.3 140.1,250.5 140.5,250.8 140.8,251.2 141.2,251.6 141.5,252.1 141.9,252.6 142.2,253.2 142.6,253.8 143.0,254.4 143.3,255.2 143.7,256.2 144.0,257.3 144.4,258.5 144.7,259.7 145.1,260.9 145.4,262.1 145.8,263.4 146.2,264.8 146.5,266.4 146.9,268.1 147.2,270.1 147.6,272.2 147.9,274.4 148.3,276.7 148.6,279.0 149.0,281.4 149.4,283.8 149.7,286.1 150.1,288.5 150.4,290.7 150.8,292.9 151.1,294.9 151.5,296.9 151.8,298.9 152.2,301.0 152.5,303.2 152.9,305.4 153.3,307.6 153.6,309.6 154.0,311.6 154.3,313.3 154.7,314.8 155.0,315.9 155.4,316.7 155.7,317.0 156.1,316.9 156.5,316.5 156.8,315.7 157.2,314.7 157.5,313.3 157.9,311.7 158.2,309.9 158.6,307.9 158.9,305.7 159.3,303.4 159.7,300.9 160.0,298.3 160.4,295.6 160.7,291.4 161.1,285.8 161.4,279.6 161.8,273.4 162.1,268.1 162.5,264.4 162.9,261.5 163.2,258.9 163.6,256.6 163.9,254.5 164.3,252.5 164.6,250.7 165.0,248.9 165.3,247.1 165.7,245.2 166.0,243.2 166.4,241.1 166.8,238.9 167.1,236.8 167.5,234.9 167.8,233.2 168.2,231.8 168.5,230.7 168.9,229.6 169.2,228.6 169.6,227.7 170.0,226.9 170.3,226.1 170.7,225.4 171.0,224.6 171.4,224.0 171.7,223.3 172.1,222.7 172.4,222.0 172.8,221.4 173.2,220.8 173.5,220.3 173.9,219.7 174.2,219.2 174.6,218.7 174.9,218.2 175.3,217.7 175.6,217.3 176.0,216.9 176.4,216.4 176.7,216.0 177.1,215.6 177.4,215.3 177.8,214.9 178.1,214.5 178.5,214.2 178.8,213.8 179.2,213.5 179.5,213.2 179.9,212.9 180.3,212.5 180.6,212.2 181.0,211.9 181.3,211.6 181.7,211.3 182.0,211.1 182.4,210.8 182.7,210.5 183.1,210.2 183.5,209.9 183.8,209.7 184.2,209.4 184.5,209.2 184.9,208.9 185.2,208.7 185.6,208.4 185.9,208.2 186.3,207.9 186.7,207.7 187.0,207.5 187.4,207.3 187.7,207.0 188.1,206.8 188.4,206.6 188.8,206.4 189.1,206.2 189.5,205.9 189.9,205.7 190.2,205.5 190.6,205.3 190.9,205.1 191.3,204.9 191.6,204.6 192.0,204.4 192.3,204.2 192.7,204.0 193.1,203.8 193.4,203.6 193.8,203.3 194.1,203.1 194.5,202.9 194.8,202.7 195.2,202.5 195.5,202.3 195.9,202.1 196.2,201.9 196.6,201.7 197.0,201.5 197.3,201.3 197.7,201.1 198.0,200.9 198.4,200.7 198.7,200.5 199.1,200.3 199.4,200.2 199.8,200.0 200.2,199.8 200.5,199.6 200.9,199.5 201.2,199.3 201.6,199.1 201.9,199.0 202.3,198.8" fill="none" stroke="#EDB120" stroke-width="1.3" stroke-linejoin="round"/>
<polyline points="25.0,199.6 25.4,199.6 25.7,199.6 26.1,199.6 26.4,199.6 26.8,199.6 27.1,199.6 27.5,199.6 27.8,199.6 28.2,199.6 28.6,199.7 28.9,199.7 29.3,199.8 29.6,199.9 30.0,200.0 30.3,200.1 30.7,200.3 31.0,200.5 31.4,200.7 31.8,201.1 32.1,201.6 32.5,202.2 32.8,202.8 33.2,203.4 33.5,204.0 33.9,204.6 34.2,205.1 34.6,205.6 34.9,206.2 35.3,206.7 35.7,207.3 36.0,207.8 36.4,208.4 36.7,208.9 37.1,209.4 37.4,209.9 37.8,210.5 38.1,211.0 38.5,211.4 38.9,211.9 39.2,212.4 39.6,212.9 39.9,213.4 40.3,213.9 40.6,214.4 41.0,214.8 41.3,215.3 41.7,215.7 42.1,216.1 42.4,216.5 42.8,216.9 43.1,217.2 43.5,217.5 43.8,217.8 44.2,218.2 44.5,218.5 44.9,218.8 45.3,219.2 45.6,219.6 46.0,220.0 46.3,220.4 46.7,220.8 47.0,221.2 47.4,221.6 47.7,221.9 48.1,222.2 48.4,222.4 48.8,222.7 49.2,222.9 49.5,223.1 49.9,223.3 50.2,223.5 50.6,223.6 50.9,223.8 51.3,224.0 51.6,224.2 52.0,224.4 52.4,224.7 52.7,224.9 53.1,225.2 53.4,225.4 53.8,225.7 54.1,226.0 54.5,226.3 54.8,226.6 55.2,226.9 55.6,227.2 55.9,227.5 56.3,227.8 56.6,228.1 57.0,228.4 57.3,228.8 57.7,229.1 58.0,229.5 58.4,229.8 58.8,230.2 59.1,230.6 59.5,231.0 59.8,231.3 60.2,231.7 60.5,232.0 60.9,232.4 61.2,232.7 61.6,233.0 61.9,233.4 62.3,233.7 62.7,234.0 63.0,234.3 63.4,234.6 63.7,234.9 64.1,235.3 64.4,235.6 64.8,235.9 65.1,236.2 65.5,236.5 65.9,236.8 66.2,237.1 66.6,237.4 66.9,237.7 67.3,238.0 67.6,238.3 68.0,238.6 68.3,238.9 68.7,239.2 69.1,239.6 69.4,239.9 69.8,240.3 70.1,240.6 70.5,241.0 70.8,241.5 71.2,241.9 71.5,242.4 71.9,242.8 72.3,243.3 72.6,243.7 73.0,244.2 73.3,244.6 73.7,245.0 74.0,245.5 74.4,245.9 74.7,246.3 75.1,246.7 75.5,247.1 75.8,247.5 76.2,247.9 76.5,248.3 76.9,248.7 77.2,249.1 77.6,249.4 77.9,249.7 78.3,250.1 78.6,250.4 79.0,250.7 79.4,251.0 79.7,251.2 80.1,251.5 80.4,251.7 80.8,251.9 81.1,252.1 81.5,252.3 81.8,252.4 82.2,252.4 82.6,252.4 82.9,252.4 83.3,252.3 83.6,252.3 84.0,252.2 84.3,252.1 84.7,251.9 85.0,251.8 85.4,251.7 85.8,251.5 86.1,251.4 86.5,251.2 86.8,251.1 87.2,250.9 87.5,250.8 87.9,250.6 88.2,250.4 88.6,250.3 89.0,250.2 89.3,250.0 89.7,249.9 90.0,249.8 90.4,249.7 90.7,249.6 91.1,249.5 91.4,249.5 91.8,249.4 92.1,249.3 92.5,249.2 92.9,249.1 93.2,249.0 93.6,248.9 93.9,248.8 94.3,248.7 94.6,248.6 95.0,248.6 95.3,248.5 95.7,248.4 96.1,248.3 96.4,248.3 96.8,248.2 97.1,248.1 97.5,248.1 97.8,248.0 98.2,247.9 98.5,247.9 98.9,247.8 99.3,247.8 99.6,247.7 100.0,247.7 100.3,247.7 100.7,247.6 101.0,247.6 101.4,247.5 101.7,247.5 102.1,247.5 102.5,247.4 102.8,247.4 103.2,247.3 103.5,247.3 103.9,247.3 104.2,247.2 104.6,247.2 104.9,247.2 105.3,247.1 105.7,247.1 106.0,247.0 106.4,247.0 106.7,247.0 107.1,246.9 107.4,246.9 107.8,246.9 108.1,246.9 108.5,246.8 108.8,246.8 109.2,246.8 109.6,246.8 109.9,246.7 110.3,246.7 110.6,246.7 111.0,246.7 111.3,246.7 111.7,246.6 112.0,246.6 112.4,246.6 112.8,246.6 113.1,246.6 113.5,246.6 113.8,246.6 114.2,246.6 114.5,246.6 114.9,246.6 115.2,246.6 115.6,246.6 116.0,246.6 116.3,246.6 116.7,246.6 117.0,246.7 117.4,246.7 117.7,246.7 118.1,246.8 118.4,246.8 118.8,246.9 119.2,246.9 119.5,247.0 119.9,247.0 120.2,247.0 120.6,247.1 120.9,247.1 121.3,247.2 121.6,247.2 122.0,247.3 122.3,247.3 122.7,247.4 123.1,247.4 123.4,247.4 123.8,247.5 124.1,247.5 124.5,247.6 124.8,247.6 125.2,247.6 125.5,247.7 125.9,247.7 126.3,247.8 126.6,247.8 127.0,247.9 127.3,247.9 127.7,248.0 128.0,248.0 128.4,248.1 128.7,248.1 129.1,248.2 129.5,248.2 129.8,248.3 130.2,248.3 130.5,248.4 130.9,248.4 131.2,248.5 131.6,248.5 131.9,248.6 132.3,248.6 132.7,248.7 133.0,248.7 133.4,248.8 133.7,248.9 134.1,248.9 134.4,249.0 134.8,249.0 135.1,249.1 135.5,249.1 135.8,249.2 136.2,249.2 136.6,249.3 136.9,249.4 137.3,249.4 137.6,249.5 138.0,249.6 138.3,249.7 138.7,249.8 139.0,249.9 139.4,250.1 139.8,250.3 140.1,250.5 140.5,250.8 140.8,251.2 141.2,251.6 141.5,252.1 141.9,252.6 142.2,253.2 142.6,253.8 143.0,254.4 143.3,255.2 143.7,256.2 144.0,257.3 144.4,258.5 144.7,259.7 145.1,260.9 145.4,262.1 145.8,263.4 146.2,264.8 146.5,266.4 146.9,268.1 147.2,270.1 147.6,272.2 147.9,274.4 148.3,276.7 148.6,279.0 149.0,281.4 149.4,283.8 149.7,286.1 150.1,288.5 150.4,290.7 150.8,292.9 151.1,294.9 151.5,296.9 151.8,298.9 152.2,301.0 152.5,303.2 152.9,305.4 153.3,307.6 153.6,309.6 154.0,311.6 154.3,313.3 154.7,314.8 155.0,315.9 155.4,316.7 155.7,317.0 156.1,316.9 156.5,316.5 156.8,315.7 157.2,314.7 157.5,313.3 157.9,311.7 158.2,309.9 158.6,307.9 158.9,305.7 159.3,303.4 159.7,300.9 160.0,298.3 160.4,295.6 160.7,291.4 161.1,285.8 161.4,279.6 161.8,273.4 162.1,268.1 162.5,264.4 162.9,261.5 163.2,258.9 163.6,256.6 163.9,254.5 164.3,252.5 164.6,250.7 165.0,248.9 165.3,247.1 165.7,245.2 166.0,243.2 166.4,241.1 166.8,238.9 167.1,236.8 167.5,234.9 167.8,233.2 168.2,231.8 168.5,230.7 168.9,229.6 169.2,228.6 169.6,227.7 170.0,226.9 170.3,226.1 170.7,225.4 171.0,224.6 171.4,224.0 171.7,223.3 172.1,222.7 172.4,222.0 172.8,221.4 173.2,220.8 173.5,220.3 173.9,219.7 174.2,219.2 174.6,218.7 174.9,218.2 175.3,217.7 175.6,217.3 176.0,216.9 176.4,216.4 176.7,216.0 177.1,215.6 177.4,215.3 177.8,214.9 178.1,214.5 178.5,214.2 178.8,213.8 179.2,213.5 179.5,213.2 179.9,212.9 180.3,212.5 180.6,212.2 181.0,211.9 181.3,211.6 181.7,211.3 182.0,211.1 182.4,210.8 182.7,210.5 183.1,210.2 183.5,209.9 183.8,209.7 184.2,209.4 184.5,209.2 184.9,208.9 185.2,208.7 185.6,208.4 185.9,208.2 186.3,207.9 186.7,207.7 187.0,207.5 187.4,207.3 187.7,207.0 188.1,206.8 188.4,206.6 188.8,206.4 189.1,206.2 189.5,205.9 189.9,205.7 190.2,205.5 190.6,205.3 190.9,205.1 191.3,204.9 191.6,204.6 192.0,204.4 192.3,204.2 192.7,204.0 193.1,203.8 193.4,203.6 193.8,203.3 194.1,203.1 194.5,202.9 194.8,202.7 195.2,202.5 195.5,202.3 195.9,202.1 196.2,201.9 196.6,201.7 197.0,201.5 197.3,201.3 197.7,201.1 198.0,200.9 198.4,200.7 198.7,200.5 199.1,200.3 199.4,200.2 199.8,200.0 200.2,199.8 200.5,199.6 200.9,199.5 201.2,199.3 201.6,199.1 201.9,199.0 202.3,198.8" fill="none" stroke="#7E2F8E" stroke-width="1.3" stroke-linejoin="round" stroke-dasharray="4.2,3.6"/>
<polyline points="25.0,199.6 25.4,199.6 25.7,199.6 26.1,199.6 26.4,199.6 26.8,199.6 27.1,199.6 27.5,199.6 27.8,199.6 28.2,199.6 28.6,199.7 28.9,199.7 29.3,199.7 29.6,199.8 30.0,199.9 30.3,200.0 30.7,200.1 31.0,200.2 31.4,200.3 31.8,200.6 32.1,201.0 32.5,201.4 32.8,201.9 33.2,202.3 33.5,202.8 33.9,203.2 34.2,203.6 34.6,204.0 34.9,204.4 35.3,204.9 35.7,205.3 36.0,205.7 36.4,206.1 36.7,206.5 37.1,207.0 37.4,207.4 37.8,207.8 38.1,208.2 38.5,208.7 38.9,209.1 39.2,209.6 39.6,210.0 39.9,210.5 40.3,210.9 40.6,211.4 41.0,211.8 41.3,212.2 41.7,212.6 42.1,213.0 42.4,213.4 42.8,213.8 43.1,214.1 43.5,214.5 43.8,214.8 44.2,215.1 44.5,215.4 44.9,215.7 45.3,216.0 45.6,216.3 46.0,216.6 46.3,216.8 46.7,217.1 47.0,217.4 47.4,217.6 47.7,217.8 48.1,218.0 48.4,218.3 48.8,218.5 49.2,218.6 49.5,218.8 49.9,219.0 50.2,219.2 50.6,219.3 50.9,219.5 51.3,219.7 51.6,219.9 52.0,220.1 52.4,220.3 52.7,220.5 53.1,220.7 53.4,221.0 53.8,221.2 54.1,221.5 54.5,221.7 54.8,222.0 55.2,222.3 55.6,222.5 55.9,222.8 56.3,223.1 56.6,223.3 57.0,223.6 57.3,223.8 57.7,224.1 58.0,224.3 58.4,224.6 58.8,224.8 59.1,225.0 59.5,225.3 59.8,225.5 60.2,225.8 60.5,226.0 60.9,226.3 61.2,226.5 61.6,226.7 61.9,227.0 62.3,227.2 62.7,227.5 63.0,227.7 63.4,228.0 63.7,228.2 64.1,228.5 64.4,228.7 64.8,229.0 65.1,229.3 65.5,229.5 65.9,229.7 66.2,230.0 66.6,230.2 66.9,230.5 67.3,230.7 67.6,231.0 68.0,231.2 68.3,231.4 68.7,231.7 69.1,232.0 69.4,232.2 69.8,232.5 70.1,232.8 70.5,233.1 70.8,233.3 71.2,233.6 71.5,233.9 71.9,234.3 72.3,234.6 72.6,234.9 73.0,235.2 73.3,235.6 73.7,235.9 74.0,236.3 74.4,236.7 74.7,237.1 75.1,237.6 75.5,238.1 75.8,238.6 76.2,239.1 76.5,239.6 76.9,240.0 77.2,240.3 77.6,240.7 77.9,241.0 78.3,241.3 78.6,241.6 79.0,241.9 79.4,242.1 79.7,242.3 80.1,242.4 80.4,242.6 80.8,242.7 81.1,242.8 81.5,242.9 81.8,243.0 82.2,243.0 82.6,243.1 82.9,243.1 83.3,243.1 83.6,243.1 84.0,243.0 84.3,242.9 84.7,242.8 85.0,242.7 85.4,242.6 85.8,242.5 86.1,242.4 86.5,242.2 86.8,242.1 87.2,242.0 87.5,241.9 87.9,241.8 88.2,241.7 88.6,241.6 89.0,241.5 89.3,241.4 89.7,241.3 90.0,241.2 90.4,241.1 90.7,241.0 91.1,240.9 91.4,240.9 91.8,240.8 92.1,240.7 92.5,240.6 92.9,240.5 93.2,240.4 93.6,240.3 93.9,240.2 94.3,240.2 94.6,240.1 95.0,240.0 95.3,239.9 95.7,239.9 96.1,239.8 96.4,239.7 96.8,239.7 97.1,239.6 97.5,239.5 97.8,239.5 98.2,239.4 98.5,239.4 98.9,239.4 99.3,239.3 99.6,239.3 100.0,239.3 100.3,239.2 100.7,239.2 101.0,239.2 101.4,239.1 101.7,239.1 102.1,239.1 102.5,239.0 102.8,239.0 103.2,239.0 103.5,239.0 103.9,238.9 104.2,238.9 104.6,238.9 104.9,238.9 105.3,238.8 105.7,238.8 106.0,238.8 106.4,238.8 106.7,238.7 107.1,238.7 107.4,238.7 107.8,238.7 108.1,238.6 108.5,238.6 108.8,238.6 109.2,238.6 109.6,238.6 109.9,238.6 110.3,238.5 110.6,238.5 111.0,238.5 111.3,238.5 111.7,238.5 112.0,238.5 112.4,238.5 112.8,238.5 113.1,238.5 113.5,238.5 113.8,238.5 114.2,238.4 114.5,238.4 114.9,238.4 115.2,238.4 115.6,238.4 116.0,238.5 116.3,238.5 116.7,238.5 117.0,238.5 117.4,238.5 117.7,238.6 118.1,238.6 118.4,238.6 118.8,238.7 119.2,238.7 119.5,238.7 119.9,238.8 120.2,238.8 120.6,238.8 120.9,238.9 121.3,238.9 121.6,238.9 122.0,239.0 122.3,239.0 122.7,239.0 123.1,239.1 123.4,239.1 123.8,239.1 124.1,239.2 124.5,239.2 124.8,239.2 125.2,239.3 125.5,239.3 125.9,239.3 126.3,239.3 126.6,239.4 127.0,239.4 127.3,239.4 127.7,239.5 128.0,239.5 128.4,239.5 128.7,239.6 129.1,239.6 129.5,239.7 129.8,239.7 130.2,239.7 130.5,239.8 130.9,239.8 131.2,239.9 131.6,239.9 131.9,240.0 132.3,240.0 132.7,240.1 133.0,240.1 133.4,240.2 133.7,240.2 134.1,240.3 134.4,240.3 134.8,240.4 135.1,240.4 135.5,240.5 135.8,240.6 136.2,240.6 136.6,240.7 136.9,240.8 137.3,240.9 137.6,241.0 138.0,241.1 138.3,241.2 138.7,241.3 139.0,241.4 139.4,241.5 139.8,241.7 140.1,241.8 140.5,242.0 140.8,242.2 141.2,242.4 141.5,242.7 141.9,243.1 142.2,243.5 142.6,244.0 143.0,244.5 143.3,245.1 143.7,245.6 144.0,246.3 144.4,247.0 144.7,248.0 145.1,249.1 145.4,250.3 145.8,251.5 146.2,252.9 146.5,254.3 146.9,256.0 147.2,257.9 147.6,259.8 147.9,261.8 148.3,263.7 148.6,265.6 149.0,267.5 149.4,269.4 149.7,271.4 150.1,273.3 150.4,275.2 150.8,277.1 151.1,279.0 151.5,280.7 151.8,282.4 152.2,283.9 152.5,285.4 152.9,286.9 153.3,288.5 153.6,290.1 154.0,291.6 154.3,292.9 154.7,294.1 155.0,295.0 155.4,295.7 155.7,296.0 156.1,295.8 156.5,295.2 156.8,294.2 157.2,292.8 157.5,291.2 157.9,289.5 158.2,287.6 158.6,285.6 158.9,283.8 159.3,281.5 159.7,278.9 160.0,276.0 160.4,273.0 160.7,269.9 161.1,267.1 161.4,264.5 161.8,262.1 162.1,259.8 162.5,257.5 162.9,255.4 163.2,253.2 163.6,251.0 163.9,248.8 164.3,246.6 164.6,244.3 165.0,241.9 165.3,239.1 165.7,236.2 166.0,233.6 166.4,231.7 166.8,230.3 167.1,229.1 167.5,228.0 167.8,227.0 168.2,226.1 168.5,225.2 168.9,224.4 169.2,223.7 169.6,222.9 170.0,222.1 170.3,221.4 170.7,220.7 171.0,220.0 171.4,219.4 171.7,218.7 172.1,218.1 172.4,217.5 172.8,217.0 173.2,216.5 173.5,215.9 173.9,215.5 174.2,215.0 174.6,214.5 174.9,214.1 175.3,213.7 175.6,213.2 176.0,212.8 176.4,212.4 176.7,212.0 177.1,211.6 177.4,211.3 177.8,210.9 178.1,210.6 178.5,210.2 178.8,209.9 179.2,209.6 179.5,209.3 179.9,209.0 180.3,208.7 180.6,208.4 181.0,208.2 181.3,207.9 181.7,207.7 182.0,207.4 182.4,207.2 182.7,207.0 183.1,206.8 183.5,206.6 183.8,206.4 184.2,206.2 184.5,206.0 184.9,205.8 185.2,205.6 185.6,205.4 185.9,205.2 186.3,205.0 186.7,204.9 187.0,204.7 187.4,204.5 187.7,204.4 188.1,204.2 188.4,204.0 188.8,203.9 189.1,203.7 189.5,203.6 189.9,203.4 190.2,203.2 190.6,203.1 190.9,203.0 191.3,202.8 191.6,202.7 192.0,202.5 192.3,202.4 192.7,202.3 193.1,202.1 193.4,202.0 193.8,201.9 194.1,201.8 194.5,201.6 194.8,201.5 195.2,201.4 195.5,201.3 195.9,201.1 196.2,201.0 196.6,200.9 197.0,200.7 197.3,200.6 197.7,200.5 198.0,200.3 198.4,200.2 198.7,200.1 199.1,200.0 199.4,199.8 199.8,199.7 200.2,199.6 200.5,199.4 200.9,199.3 201.2,199.2 201.6,199.1 201.9,198.9 202.3,198.8" fill="none" stroke="#77AC30" stroke-width="1.3" stroke-linejoin="round"/>
<rect x="89.60" y="261.50" width="48.90" height="49.10" fill="#fff" stroke="#8c8c8c" stroke-width="0.7"/>
<line x1="91.50" y1="266.60" x2="107.40" y2="266.60" stroke="#0072BD" stroke-width="1.3"/>
<text x="109.00" y="269.50">PFPE</text>
<line x1="91.50" y1="277.20" x2="107.40" y2="277.20" stroke="#D95319" stroke-width="1.3"/>
<text x="109.00" y="279.20">SiO<tspan dy="3.2" font-size="5.8">2</tspan></text>
<line x1="91.50" y1="287.80" x2="107.40" y2="287.80" stroke="#EDB120" stroke-width="1.3"/>
<text x="109.00" y="290.70">Cobalt</text>
<line x1="91.50" y1="297.20" x2="107.40" y2="297.20" stroke="#7E2F8E" stroke-width="1.3" stroke-dasharray="4.2,3.6"/>
<text x="109.00" y="300.00">Platinum</text>
<line x1="91.50" y1="306.10" x2="107.40" y2="306.10" stroke="#77AC30" stroke-width="1.3"/>
<text x="109.00" y="308.90">Iron</text>
<path d="M255.40,182.30V320.50H433.00" fill="none" stroke="#a8a8a8" stroke-width="1"/>
<path d="M255.40,320.50v-1.8M290.92,320.50v-1.8M326.44,320.50v-1.8M361.96,320.50v-1.8M397.48,320.50v-1.8M433.00,320.50v-1.8M255.40,320.50h1.8M255.40,303.23h1.8M255.40,285.95h1.8M255.40,268.68h1.8M255.40,251.40h1.8M255.40,234.12h1.8M255.40,216.85h1.8M255.40,199.58h1.8M255.40,182.30h1.8" stroke="#a8a8a8" stroke-width="0.6" fill="none"/>
<text x="255.40" y="330.90" text-anchor="middle">0</text>
<text x="290.92" y="330.90" text-anchor="middle">0.2</text>
<text x="326.44" y="330.90" text-anchor="middle">0.4</text>
<text x="361.96" y="330.90" text-anchor="middle">0.6</text>
<text x="397.48" y="330.90" text-anchor="middle">0.8</text>
<text x="433.00" y="330.90" text-anchor="middle">1</text>
<text x="252.60" y="323.70" text-anchor="end">-2</text>
<text x="252.60" y="306.43" text-anchor="end">-1.8</text>
<text x="252.60" y="289.15" text-anchor="end">-1.6</text>
<text x="252.60" y="271.88" text-anchor="end">-1.4</text>
<text x="252.60" y="254.60" text-anchor="end">-1.2</text>
<text x="252.60" y="237.32" text-anchor="end">-1</text>
<text x="252.60" y="220.05" text-anchor="end">-0.8</text>
<text x="252.60" y="202.78" text-anchor="end">-0.6</text>
<text x="252.60" y="185.50" text-anchor="end">-0.4</text>
<text x="344.20" y="180.10" text-anchor="middle" font-weight="bold" style="fill:#000;stroke:#000;stroke-width:0.1px">(e) Vertical direction</text>
<text x="344.20" y="340.60" text-anchor="middle">Normalized Vertical Direction</text>
<text transform="translate(236.30,251.40) rotate(-90)" x="0" y="0" text-anchor="middle">Normalized Potential Well</text>
<polyline points="255.4,212.6 255.8,213.0 256.3,213.4 256.7,213.9 257.2,214.3 257.6,214.7 258.1,215.1 258.5,215.5 259.0,215.9 259.4,216.3 259.9,216.7 260.3,217.1 260.7,217.5 261.2,217.9 261.6,218.4 262.1,218.8 262.5,219.2 263.0,219.6 263.4,220.0 263.9,220.4 264.3,220.8 264.7,221.2 265.2,221.6 265.6,222.0 266.1,222.5 266.5,222.9 267.0,223.3 267.4,223.7 267.9,224.1 268.3,224.5 268.8,224.9 269.2,225.3 269.6,225.6 270.1,226.0 270.5,226.4 271.0,226.9 271.4,227.3 271.9,227.8 272.3,228.3 272.8,228.8 273.2,229.3 273.6,229.7 274.1,230.2 274.5,230.6 275.0,231.0 275.4,231.4 275.9,231.7 276.3,231.9 276.8,232.1 277.2,232.2 277.7,232.3 278.1,232.3 278.5,232.2 279.0,232.1 279.4,232.0 279.9,231.8 280.3,231.5 280.8,231.2 281.2,230.9 281.7,230.6 282.1,230.3 282.6,229.9 283.0,229.6 283.4,229.2 283.9,228.8 284.3,228.4 284.8,228.1 285.2,227.7 285.7,227.4 286.1,227.1 286.6,226.7 287.0,226.4 287.4,226.1 287.9,225.7 288.3,225.4 288.8,225.0 289.2,224.6 289.7,224.3 290.1,223.9 290.6,223.5 291.0,223.1 291.5,222.8 291.9,222.4 292.3,222.0 292.8,221.7 293.2,221.3 293.7,221.0 294.1,220.6 294.6,220.3 295.0,220.0 295.5,219.7 295.9,219.4 296.4,219.1 296.8,218.9 297.2,218.6 297.7,218.3 298.1,218.1 298.6,217.8 299.0,217.6 299.5,217.3 299.9,217.1 300.4,216.9 300.8,216.6 301.2,216.4 301.7,216.2 302.1,216.0 302.6,215.8 303.0,215.6 303.5,215.3 303.9,215.1 304.4,215.0 304.8,214.8 305.3,214.6 305.7,214.4 306.1,214.2 306.6,214.0 307.0,213.8 307.5,213.7 307.9,213.5 308.4,213.3 308.8,213.1 309.3,213.0 309.7,212.8 310.1,212.6 310.6,212.4 311.0,212.3 311.5,212.1 311.9,211.9 312.4,211.8 312.8,211.6 313.3,211.4 313.7,211.3 314.2,211.1 314.6,210.9 315.0,210.8 315.5,210.6 315.9,210.4 316.4,210.3 316.8,210.1 317.3,210.0 317.7,209.9 318.2,209.7 318.6,209.6 319.1,209.5 319.5,209.3 319.9,209.2 320.4,209.1 320.8,209.0 321.3,208.9 321.7,208.8 322.2,208.7 322.6,208.6 323.1,208.6 323.5,208.5 323.9,208.4 324.4,208.3 324.8,208.2 325.3,208.2 325.7,208.1 326.2,208.0 326.6,207.9 327.1,207.9 327.5,207.8 328.0,207.7 328.4,207.7 328.8,207.6 329.3,207.6 329.7,207.5 330.2,207.4 330.6,207.4 331.1,207.3 331.5,207.3 332.0,207.2 332.4,207.2 332.8,207.1 333.3,207.1 333.7,207.0 334.2,207.0 334.6,206.9 335.1,206.9 335.5,206.8 336.0,206.8 336.4,206.7 336.9,206.7 337.3,206.7 337.7,206.6 338.2,206.6 338.6,206.5 339.1,206.5 339.5,206.5 340.0,206.4 340.4,206.4 340.9,206.3 341.3,206.3 341.8,206.3 342.2,206.2 342.6,206.2 343.1,206.2 343.5,206.1 344.0,206.1 344.4,206.0 344.9,206.0 345.3,206.0 345.8,205.9 346.2,205.9 346.6,205.9 347.1,205.8 347.5,205.8 348.0,205.8 348.4,205.7 348.9,205.7 349.3,205.7 349.8,205.6 350.2,205.6 350.7,205.5 351.1,205.5 351.5,205.5 352.0,205.4 352.4,205.4 352.9,205.4 353.3,205.3 353.8,205.3 354.2,205.2 354.7,205.2 355.1,205.2 355.6,205.1 356.0,205.1 356.4,205.1 356.9,205.0 357.3,205.0 357.8,204.9 358.2,204.9 358.7,204.9 359.1,204.8 359.6,204.8 360.0,204.8 360.4,204.7 360.9,204.7 361.3,204.6 361.8,204.6 362.2,204.6 362.7,204.5 363.1,204.5 363.6,204.5 364.0,204.4 364.5,204.4 364.9,204.3 365.3,204.3 365.8,204.3 366.2,204.2 366.7,204.2 367.1,204.2 367.6,204.1 368.0,204.1 368.5,204.1 368.9,204.0 369.3,204.0 369.8,204.0 370.2,203.9 370.7,203.9 371.1,203.9 371.6,203.8 372.0,203.8 372.5,203.8 372.9,203.7 373.4,203.7 373.8,203.7 374.2,203.6 374.7,203.6 375.1,203.6 375.6,203.6 376.0,203.5 376.5,203.5 376.9,203.5 377.4,203.5 377.8,203.4 378.3,203.4 378.7,203.4 379.1,203.4 379.6,203.3 380.0,203.3 380.5,203.3 380.9,203.3 381.4,203.3 381.8,203.2 382.3,203.2 382.7,203.2 383.1,203.2 383.6,203.1 384.0,203.1 384.5,203.1 384.9,203.1 385.4,203.1 385.8,203.0 386.3,203.0 386.7,203.0 387.2,203.0 387.6,203.0 388.0,202.9 388.5,202.9 388.9,202.9 389.4,202.9 389.8,202.8 390.3,202.8 390.7,202.8 391.2,202.8 391.6,202.8 392.0,202.7 392.5,202.7 392.9,202.7 393.4,202.7 393.8,202.7 394.3,202.6 394.7,202.6 395.2,202.6 395.6,202.6 396.1,202.6 396.5,202.5 396.9,202.5 397.4,202.5 397.8,202.5 398.3,202.5 398.7,202.4 399.2,202.4 399.6,202.4 400.1,202.4 400.5,202.4 401.0,202.3 401.4,202.3 401.8,202.3 402.3,202.3 402.7,202.3 403.2,202.3 403.6,202.2 404.1,202.2 404.5,202.2 405.0,202.2 405.4,202.2 405.8,202.1 406.3,202.1 406.7,202.1 407.2,202.1 407.6,202.1 408.1,202.1 408.5,202.0 409.0,202.0 409.4,202.0 409.9,202.0 410.3,202.0 410.7,202.0 411.2,202.0 411.6,201.9 412.1,201.9 412.5,201.9 413.0,201.9 413.4,201.9 413.9,201.9 414.3,201.9 414.8,201.8 415.2,201.8 415.6,201.8 416.1,201.8 416.5,201.8 417.0,201.8 417.4,201.8 417.9,201.7 418.3,201.7 418.8,201.7 419.2,201.7 419.6,201.7 420.1,201.7 420.5,201.7 421.0,201.7 421.4,201.7 421.9,201.6 422.3,201.6 422.8,201.6 423.2,201.6 423.7,201.6 424.1,201.6 424.5,201.6 425.0,201.6 425.4,201.6 425.9,201.6 426.3,201.6 426.8,201.6 427.2,201.5 427.7,201.5 428.1,201.5 428.5,201.5 429.0,201.5 429.4,201.5 429.9,201.5 430.3,201.5 430.8,201.5 431.2,201.5 431.7,201.5 432.1,201.5 432.6,201.5 433.0,201.5" fill="none" stroke="#0072BD" stroke-width="1.3" stroke-linejoin="round"/>
<polyline points="255.4,197.0 255.8,197.3 256.3,197.6 256.7,198.0 257.2,198.3 257.6,198.6 258.1,199.0 258.5,199.3 259.0,199.6 259.4,199.9 259.9,200.3 260.3,200.6 260.7,200.9 261.2,201.3 261.6,201.6 262.1,201.9 262.5,202.2 263.0,202.5 263.4,202.9 263.9,203.2 264.3,203.5 264.7,203.9 265.2,204.2 265.6,204.5 266.1,204.8 266.5,205.2 267.0,205.5 267.4,205.8 267.9,206.1 268.3,206.4 268.8,206.7 269.2,207.0 269.6,207.3 270.1,207.6 270.5,207.9 271.0,208.2 271.4,208.5 271.9,208.9 272.3,209.2 272.8,209.6 273.2,209.9 273.6,210.2 274.1,210.5 274.5,210.8 275.0,211.1 275.4,211.4 275.9,211.6 276.3,211.7 276.8,211.9 277.2,212.0 277.7,212.0 278.1,212.0 278.5,211.9 279.0,211.8 279.4,211.7 279.9,211.5 280.3,211.3 280.8,211.1 281.2,210.8 281.7,210.5 282.1,210.3 282.6,209.9 283.0,209.6 283.4,209.3 283.9,209.0 284.3,208.7 284.8,208.4 285.2,208.1 285.7,207.8 286.1,207.5 286.6,207.3 287.0,207.0 287.4,206.8 287.9,206.5 288.3,206.2 288.8,205.9 289.2,205.7 289.7,205.4 290.1,205.1 290.6,204.9 291.0,204.6 291.5,204.3 291.9,204.0 292.3,203.8 292.8,203.5 293.2,203.2 293.7,203.0 294.1,202.7 294.6,202.4 295.0,202.2 295.5,202.0 295.9,201.7 296.4,201.5 296.8,201.2 297.2,201.0 297.7,200.8 298.1,200.6 298.6,200.3 299.0,200.1 299.5,199.9 299.9,199.7 300.4,199.5 300.8,199.3 301.2,199.1 301.7,198.9 302.1,198.7 302.6,198.5 303.0,198.4 303.5,198.2 303.9,198.0 304.4,197.9 304.8,197.7 305.3,197.5 305.7,197.4 306.1,197.2 306.6,197.1 307.0,197.0 307.5,196.8 307.9,196.7 308.4,196.6 308.8,196.4 309.3,196.3 309.7,196.2 310.1,196.1 310.6,195.9 311.0,195.8 311.5,195.7 311.9,195.6 312.4,195.5 312.8,195.4 313.3,195.3 313.7,195.1 314.2,195.0 314.6,194.9 315.0,194.8 315.5,194.7 315.9,194.6 316.4,194.5 316.8,194.4 317.3,194.4 317.7,194.3 318.2,194.2 318.6,194.1 319.1,194.0 319.5,193.9 319.9,193.9 320.4,193.8 320.8,193.8 321.3,193.7 321.7,193.6 322.2,193.6 322.6,193.5 323.1,193.5 323.5,193.4 323.9,193.4 324.4,193.3 324.8,193.3 325.3,193.2 325.7,193.2 326.2,193.2 326.6,193.1 327.1,193.1 327.5,193.0 328.0,193.0 328.4,193.0 328.8,192.9 329.3,192.9 329.7,192.9 330.2,192.8 330.6,192.8 331.1,192.7 331.5,192.7 332.0,192.7 332.4,192.6 332.8,192.6 333.3,192.5 333.7,192.5 334.2,192.5 334.6,192.4 335.1,192.4 335.5,192.4 336.0,192.3 336.4,192.3 336.9,192.3 337.3,192.2 337.7,192.2 338.2,192.1 338.6,192.1 339.1,192.1 339.5,192.0 340.0,192.0 340.4,192.0 340.9,191.9 341.3,191.9 341.8,191.9 342.2,191.8 342.6,191.8 343.1,191.8 343.5,191.7 344.0,191.7 344.4,191.7 344.9,191.7 345.3,191.6 345.8,191.6 346.2,191.6 346.6,191.5 347.1,191.5 347.5,191.5 348.0,191.4 348.4,191.4 348.9,191.4 349.3,191.4 349.8,191.3 350.2,191.3 350.7,191.3 351.1,191.2 351.5,191.2 352.0,191.2 352.4,191.2 352.9,191.1 353.3,191.1 353.8,191.1 354.2,191.1 354.7,191.0 355.1,191.0 355.6,191.0 356.0,190.9 356.4,190.9 356.9,190.9 357.3,190.9 357.8,190.8 358.2,190.8 358.7,190.8 359.1,190.8 359.6,190.7 360.0,190.7 360.4,190.7 360.9,190.7 361.3,190.6 361.8,190.6 362.2,190.6 362.7,190.6 363.1,190.5 363.6,190.5 364.0,190.5 364.5,190.5 364.9,190.4 365.3,190.4 365.8,190.4 366.2,190.4 366.7,190.3 367.1,190.3 367.6,190.3 368.0,190.3 368.5,190.2 368.9,190.2 369.3,190.2 369.8,190.2 370.2,190.2 370.7,190.1 371.1,190.1 371.6,190.1 372.0,190.1 372.5,190.1 372.9,190.0 373.4,190.0 373.8,190.0 374.2,190.0 374.7,190.0 375.1,190.0 375.6,189.9 376.0,189.9 376.5,189.9 376.9,189.9 377.4,189.9 377.8,189.9 378.3,189.8 378.7,189.8 379.1,189.8 379.6,189.8 380.0,189.8 380.5,189.8 380.9,189.8 381.4,189.7 381.8,189.7 382.3,189.7 382.7,189.7 383.1,189.7 383.6,189.7 384.0,189.7 384.5,189.6 384.9,189.6 385.4,189.6 385.8,189.6 386.3,189.6 386.7,189.6 387.2,189.6 387.6,189.6 388.0,189.5 388.5,189.5 388.9,189.5 389.4,189.5 389.8,189.5 390.3,189.5 390.7,189.5 391.2,189.4 391.6,189.4 392.0,189.4 392.5,189.4 392.9,189.4 393.4,189.4 393.8,189.4 394.3,189.4 394.7,189.3 395.2,189.3 395.6,189.3 396.1,189.3 396.5,189.3 396.9,189.3 397.4,189.3 397.8,189.3 398.3,189.2 398.7,189.2 399.2,189.2 399.6,189.2 400.1,189.2 400.5,189.2 401.0,189.2 401.4,189.2 401.8,189.2 402.3,189.1 402.7,189.1 403.2,189.1 403.6,189.1 404.1,189.1 404.5,189.1 405.0,189.1 405.4,189.1 405.8,189.1 406.3,189.0 406.7,189.0 407.2,189.0 407.6,189.0 408.1,189.0 408.5,189.0 409.0,189.0 409.4,189.0 409.9,189.0 410.3,189.0 410.7,188.9 411.2,188.9 411.6,188.9 412.1,188.9 412.5,188.9 413.0,188.9 413.4,188.9 413.9,188.9 414.3,188.9 414.8,188.9 415.2,188.9 415.6,188.9 416.1,188.8 416.5,188.8 417.0,188.8 417.4,188.8 417.9,188.8 418.3,188.8 418.8,188.8 419.2,188.8 419.6,188.8 420.1,188.8 420.5,188.8 421.0,188.8 421.4,188.8 421.9,188.8 422.3,188.8 422.8,188.8 423.2,188.7 423.7,188.7 424.1,188.7 424.5,188.7 425.0,188.7 425.4,188.7 425.9,188.7 426.3,188.7 426.8,188.7 427.2,188.7 427.7,188.7 428.1,188.7 428.5,188.7 429.0,188.7 429.4,188.7 429.9,188.7 430.3,188.7 430.8,188.7 431.2,188.7 431.7,188.7 432.1,188.7 432.6,188.7 433.0,188.7" fill="none" stroke="#D95319" stroke-width="1.3" stroke-linejoin="round"/>
<polyline points="255.4,278.3 255.8,279.4 256.3,280.5 256.7,281.6 257.2,282.7 257.6,283.7 258.1,284.8 258.5,285.8 259.0,286.8 259.4,287.8 259.9,288.8 260.3,289.8 260.7,290.8 261.2,291.8 261.6,292.7 262.1,293.7 262.5,294.6 263.0,295.5 263.4,296.5 263.9,297.4 264.3,298.3 264.7,299.2 265.2,300.0 265.6,300.9 266.1,301.8 266.5,302.7 267.0,303.5 267.4,304.4 267.9,305.2 268.3,306.1 268.8,307.0 269.2,307.9 269.6,308.8 270.1,309.7 270.5,310.6 271.0,311.4 271.4,312.3 271.9,313.1 272.3,313.8 272.8,314.5 273.2,315.0 273.6,315.5 274.1,316.0 274.5,316.4 275.0,316.9 275.4,317.3 275.9,317.7 276.3,318.0 276.8,318.3 277.2,318.4 277.7,318.5 278.1,318.5 278.5,318.3 279.0,318.1 279.4,317.7 279.9,317.3 280.3,316.8 280.8,316.3 281.2,315.7 281.7,315.1 282.1,314.5 282.6,313.9 283.0,313.3 283.4,312.7 283.9,312.2 284.3,311.6 284.8,310.9 285.2,310.2 285.7,309.5 286.1,308.8 286.6,308.0 287.0,307.2 287.4,306.5 287.9,305.7 288.3,305.0 288.8,304.3 289.2,303.6 289.7,302.9 290.1,302.2 290.6,301.5 291.0,300.8 291.5,300.1 291.9,299.4 292.3,298.7 292.8,298.0 293.2,297.3 293.7,296.7 294.1,296.0 294.6,295.4 295.0,294.8 295.5,294.2 295.9,293.6 296.4,293.0 296.8,292.4 297.2,291.9 297.7,291.3 298.1,290.7 298.6,290.2 299.0,289.6 299.5,289.1 299.9,288.6 300.4,288.1 300.8,287.7 301.2,287.2 301.7,286.8 302.1,286.3 302.6,285.9 303.0,285.6 303.5,285.2 303.9,284.9 304.4,284.5 304.8,284.2 305.3,283.8 305.7,283.4 306.1,283.1 306.6,282.7 307.0,282.4 307.5,282.0 307.9,281.7 308.4,281.3 308.8,281.0 309.3,280.6 309.7,280.3 310.1,279.9 310.6,279.6 311.0,279.2 311.5,278.9 311.9,278.6 312.4,278.2 312.8,277.9 313.3,277.6 313.7,277.3 314.2,277.0 314.6,276.6 315.0,276.3 315.5,276.0 315.9,275.7 316.4,275.4 316.8,275.0 317.3,274.7 317.7,274.4 318.2,274.1 318.6,273.8 319.1,273.6 319.5,273.3 319.9,273.1 320.4,272.8 320.8,272.6 321.3,272.4 321.7,272.2 322.2,272.0 322.6,271.8 323.1,271.6 323.5,271.5 323.9,271.3 324.4,271.2 324.8,271.1 325.3,270.9 325.7,270.8 326.2,270.7 326.6,270.6 327.1,270.5 327.5,270.5 328.0,270.4 328.4,270.3 328.8,270.2 329.3,270.1 329.7,270.1 330.2,270.0 330.6,269.9 331.1,269.8 331.5,269.7 332.0,269.7 332.4,269.6 332.8,269.5 333.3,269.4 333.7,269.3 334.2,269.3 334.6,269.2 335.1,269.1 335.5,269.0 336.0,269.0 336.4,268.9 336.9,268.8 337.3,268.7 337.7,268.6 338.2,268.6 338.6,268.5 339.1,268.4 339.5,268.3 340.0,268.2 340.4,268.2 340.9,268.1 341.3,268.0 341.8,267.9 342.2,267.8 342.6,267.7 343.1,267.6 343.5,267.6 344.0,267.5 344.4,267.4 344.9,267.3 345.3,267.2 345.8,267.1 346.2,267.0 346.6,267.0 347.1,266.9 347.5,266.8 348.0,266.7 348.4,266.6 348.9,266.5 349.3,266.4 349.8,266.3 350.2,266.2 350.7,266.2 351.1,266.1 351.5,266.0 352.0,265.9 352.4,265.8 352.9,265.7 353.3,265.6 353.8,265.5 354.2,265.4 354.7,265.3 355.1,265.2 355.6,265.1 356.0,265.0 356.4,264.9 356.9,264.8 357.3,264.7 357.8,264.6 358.2,264.5 358.7,264.3 359.1,264.2 359.6,264.1 360.0,264.0 360.4,263.9 360.9,263.8 361.3,263.7 361.8,263.6 362.2,263.5 362.7,263.4 363.1,263.3 363.6,263.3 364.0,263.2 364.5,263.1 364.9,263.0 365.3,262.9 365.8,262.8 366.2,262.7 366.7,262.6 367.1,262.5 367.6,262.4 368.0,262.4 368.5,262.3 368.9,262.2 369.3,262.1 369.8,262.0 370.2,261.9 370.7,261.8 371.1,261.8 371.6,261.7 372.0,261.6 372.5,261.5 372.9,261.5 373.4,261.4 373.8,261.3 374.2,261.2 374.7,261.2 375.1,261.1 375.6,261.0 376.0,261.0 376.5,260.9 376.9,260.8 377.4,260.8 377.8,260.7 378.3,260.6 378.7,260.6 379.1,260.5 379.6,260.5 380.0,260.4 380.5,260.3 380.9,260.3 381.4,260.2 381.8,260.2 382.3,260.1 382.7,260.1 383.1,260.0 383.6,259.9 384.0,259.9 384.5,259.8 384.9,259.8 385.4,259.7 385.8,259.7 386.3,259.6 386.7,259.6 387.2,259.5 387.6,259.5 388.0,259.5 388.5,259.4 388.9,259.4 389.4,259.3 389.8,259.3 390.3,259.2 390.7,259.2 391.2,259.2 391.6,259.1 392.0,259.1 392.5,259.1 392.9,259.0 393.4,259.0 393.8,259.0 394.3,258.9 394.7,258.9 395.2,258.9 395.6,258.9 396.1,258.8 396.5,258.8 396.9,258.8 397.4,258.8 397.8,258.7 398.3,258.7 398.7,258.7 399.2,258.7 399.6,258.6 400.1,258.6 400.5,258.6 401.0,258.6 401.4,258.5 401.8,258.5 402.3,258.5 402.7,258.5 403.2,258.5 403.6,258.4 404.1,258.4 404.5,258.4 405.0,258.4 405.4,258.4 405.8,258.3 406.3,258.3 406.7,258.3 407.2,258.3 407.6,258.3 408.1,258.3 408.5,258.2 409.0,258.2 409.4,258.2 409.9,258.2 410.3,258.2 410.7,258.2 411.2,258.2 411.6,258.1 412.1,258.1 412.5,258.1 413.0,258.1 413.4,258.1 413.9,258.1 414.3,258.1 414.8,258.0 415.2,258.0 415.6,258.0 416.1,258.0 416.5,258.0 417.0,258.0 417.4,258.0 417.9,257.9 418.3,257.9 418.8,257.9 419.2,257.9 419.6,257.9 420.1,257.9 420.5,257.9 421.0,257.9 421.4,257.8 421.9,257.8 422.3,257.8 422.8,257.8 423.2,257.8 423.7,257.8 424.1,257.8 424.5,257.8 425.0,257.8 425.4,257.7 425.9,257.7 426.3,257.7 426.8,257.7 427.2,257.7 427.7,257.7 428.1,257.7 428.5,257.7 429.0,257.7 429.4,257.7 429.9,257.7 430.3,257.7 430.8,257.6 431.2,257.6 431.7,257.6 432.1,257.6 432.6,257.6 433.0,257.6" fill="none" stroke="#EDB120" stroke-width="1.3" stroke-linejoin="round"/>
<polyline points="255.4,278.3 255.8,279.6 256.3,280.8 256.7,281.9 257.2,283.1 257.6,284.3 258.1,285.4 258.5,286.5 259.0,287.6 259.4,288.7 259.9,289.7 260.3,290.8 260.7,291.8 261.2,292.8 261.6,293.8 262.1,294.8 262.5,295.7 263.0,296.6 263.4,297.6 263.9,298.5 264.3,299.4 264.7,300.2 265.2,301.1 265.6,302.0 266.1,302.8 266.5,303.7 267.0,304.6 267.4,305.4 267.9,306.3 268.3,307.1 268.8,308.0 269.2,308.9 269.6,309.9 270.1,310.8 270.5,311.7 271.0,312.6 271.4,313.5 271.9,314.3 272.3,315.1 272.8,315.7 273.2,316.3 273.6,316.8 274.1,317.3 274.5,317.7 275.0,318.2 275.4,318.6 275.9,319.0 276.3,319.3 276.8,319.6 277.2,319.7 277.7,319.8 278.1,319.8 278.5,319.6 279.0,319.4 279.4,319.0 279.9,318.6 280.3,318.2 280.8,317.6 281.2,317.0 281.7,316.4 282.1,315.8 282.6,315.2 283.0,314.6 283.4,314.0 283.9,313.5 284.3,312.8 284.8,312.1 285.2,311.4 285.7,310.7 286.1,309.9 286.6,309.2 287.0,308.4 287.4,307.6 287.9,306.8 288.3,306.1 288.8,305.3 289.2,304.6 289.7,303.9 290.1,303.2 290.6,302.5 291.0,301.8 291.5,301.1 291.9,300.4 292.3,299.7 292.8,299.0 293.2,298.3 293.7,297.7 294.1,297.1 294.6,296.4 295.0,295.8 295.5,295.2 295.9,294.6 296.4,294.0 296.8,293.5 297.2,292.9 297.7,292.3 298.1,291.8 298.6,291.2 299.0,290.7 299.5,290.2 299.9,289.7 300.4,289.2 300.8,288.7 301.2,288.2 301.7,287.8 302.1,287.4 302.6,287.0 303.0,286.6 303.5,286.2 303.9,285.9 304.4,285.6 304.8,285.2 305.3,284.8 305.7,284.5 306.1,284.1 306.6,283.8 307.0,283.4 307.5,283.1 307.9,282.7 308.4,282.4 308.8,282.0 309.3,281.6 309.7,281.3 310.1,281.0 310.6,280.6 311.0,280.3 311.5,279.9 311.9,279.6 312.4,279.3 312.8,278.9 313.3,278.6 313.7,278.3 314.2,278.0 314.6,277.7 315.0,277.3 315.5,277.0 315.9,276.7 316.4,276.4 316.8,276.1 317.3,275.8 317.7,275.5 318.2,275.2 318.6,274.9 319.1,274.6 319.5,274.3 319.9,274.1 320.4,273.9 320.8,273.6 321.3,273.4 321.7,273.2 322.2,273.0 322.6,272.9 323.1,272.7 323.5,272.5 323.9,272.4 324.4,272.2 324.8,272.1 325.3,272.0 325.7,271.9 326.2,271.8 326.6,271.7 327.1,271.6 327.5,271.5 328.0,271.4 328.4,271.3 328.8,271.3 329.3,271.2 329.7,271.1 330.2,271.0 330.6,270.9 331.1,270.9 331.5,270.8 332.0,270.7 332.4,270.6 332.8,270.5 333.3,270.5 333.7,270.4 334.2,270.3 334.6,270.2 335.1,270.1 335.5,270.1 336.0,270.0 336.4,269.9 336.9,269.8 337.3,269.8 337.7,269.7 338.2,269.6 338.6,269.5 339.1,269.4 339.5,269.4 340.0,269.3 340.4,269.2 340.9,269.1 341.3,269.0 341.8,268.9 342.2,268.9 342.6,268.8 343.1,268.7 343.5,268.6 344.0,268.5 344.4,268.4 344.9,268.3 345.3,268.3 345.8,268.2 346.2,268.1 346.6,268.0 347.1,267.9 347.5,267.8 348.0,267.7 348.4,267.6 348.9,267.5 349.3,267.5 349.8,267.4 350.2,267.3 350.7,267.2 351.1,267.1 351.5,267.0 352.0,266.9 352.4,266.8 352.9,266.7 353.3,266.6 353.8,266.5 354.2,266.4 354.7,266.3 355.1,266.2 355.6,266.1 356.0,266.0 356.4,265.9 356.9,265.8 357.3,265.7 357.8,265.6 358.2,265.5 358.7,265.4 359.1,265.3 359.6,265.2 360.0,265.1 360.4,265.0 360.9,264.9 361.3,264.8 361.8,264.7 362.2,264.6 362.7,264.5 363.1,264.4 363.6,264.3 364.0,264.2 364.5,264.1 364.9,264.0 365.3,263.9 365.8,263.8 366.2,263.7 366.7,263.7 367.1,263.6 367.6,263.5 368.0,263.4 368.5,263.3 368.9,263.2 369.3,263.1 369.8,263.0 370.2,263.0 370.7,262.9 371.1,262.8 371.6,262.7 372.0,262.6 372.5,262.6 372.9,262.5 373.4,262.4 373.8,262.3 374.2,262.3 374.7,262.2 375.1,262.1 375.6,262.1 376.0,262.0 376.5,261.9 376.9,261.9 377.4,261.8 377.8,261.7 378.3,261.7 378.7,261.6 379.1,261.6 379.6,261.5 380.0,261.4 380.5,261.4 380.9,261.3 381.4,261.3 381.8,261.2 382.3,261.2 382.7,261.1 383.1,261.0 383.6,261.0 384.0,260.9 384.5,260.9 384.9,260.8 385.4,260.8 385.8,260.7 386.3,260.7 386.7,260.6 387.2,260.6 387.6,260.5 388.0,260.5 388.5,260.4 388.9,260.4 389.4,260.4 389.8,260.3 390.3,260.3 390.7,260.2 391.2,260.2 391.6,260.2 392.0,260.1 392.5,260.1 392.9,260.1 393.4,260.0 393.8,260.0 394.3,260.0 394.7,260.0 395.2,259.9 395.6,259.9 396.1,259.9 396.5,259.8 396.9,259.8 397.4,259.8 397.8,259.8 398.3,259.7 398.7,259.7 399.2,259.7 399.6,259.7 400.1,259.6 400.5,259.6 401.0,259.6 401.4,259.6 401.8,259.6 402.3,259.5 402.7,259.5 403.2,259.5 403.6,259.5 404.1,259.5 404.5,259.4 405.0,259.4 405.4,259.4 405.8,259.4 406.3,259.4 406.7,259.3 407.2,259.3 407.6,259.3 408.1,259.3 408.5,259.3 409.0,259.3 409.4,259.3 409.9,259.2 410.3,259.2 410.7,259.2 411.2,259.2 411.6,259.2 412.1,259.2 412.5,259.1 413.0,259.1 413.4,259.1 413.9,259.1 414.3,259.1 414.8,259.1 415.2,259.1 415.6,259.0 416.1,259.0 416.5,259.0 417.0,259.0 417.4,259.0 417.9,259.0 418.3,259.0 418.8,259.0 419.2,258.9 419.6,258.9 420.1,258.9 420.5,258.9 421.0,258.9 421.4,258.9 421.9,258.9 422.3,258.9 422.8,258.8 423.2,258.8 423.7,258.8 424.1,258.8 424.5,258.8 425.0,258.8 425.4,258.8 425.9,258.8 426.3,258.8 426.8,258.8 427.2,258.7 427.7,258.7 428.1,258.7 428.5,258.7 429.0,258.7 429.4,258.7 429.9,258.7 430.3,258.7 430.8,258.7 431.2,258.7 431.7,258.7 432.1,258.7 432.6,258.7 433.0,258.7" fill="none" stroke="#7E2F8E" stroke-width="1.3" stroke-linejoin="round" stroke-dasharray="4.2,3.6"/>
<polyline points="255.4,278.3 255.8,279.3 256.3,280.3 256.7,281.3 257.2,282.2 257.6,283.2 258.1,284.1 258.5,285.1 259.0,286.0 259.4,287.0 259.9,287.9 260.3,288.9 260.7,289.8 261.2,290.7 261.6,291.6 262.1,292.6 262.5,293.5 263.0,294.4 263.4,295.3 263.9,296.3 264.3,297.2 264.7,298.1 265.2,299.0 265.6,299.9 266.1,300.8 266.5,301.6 267.0,302.5 267.4,303.4 267.9,304.2 268.3,305.0 268.8,305.9 269.2,306.8 269.6,307.7 270.1,308.5 270.5,309.4 271.0,310.3 271.4,311.1 271.9,311.8 272.3,312.5 272.8,313.2 273.2,313.8 273.6,314.2 274.1,314.7 274.5,315.1 275.0,315.6 275.4,316.0 275.9,316.4 276.3,316.7 276.8,317.0 277.2,317.1 277.7,317.2 278.1,317.2 278.5,317.0 279.0,316.8 279.4,316.4 279.9,316.0 280.3,315.5 280.8,315.0 281.2,314.4 281.7,313.8 282.1,313.2 282.6,312.6 283.0,312.0 283.4,311.5 283.9,310.9 284.3,310.3 284.8,309.6 285.2,309.0 285.7,308.3 286.1,307.6 286.6,306.9 287.0,306.1 287.4,305.4 287.9,304.7 288.3,304.0 288.8,303.2 289.2,302.6 289.7,301.9 290.1,301.2 290.6,300.5 291.0,299.7 291.5,299.0 291.9,298.3 292.3,297.6 292.8,297.0 293.2,296.3 293.7,295.6 294.1,295.0 294.6,294.4 295.0,293.8 295.5,293.2 295.9,292.6 296.4,292.0 296.8,291.4 297.2,290.8 297.7,290.2 298.1,289.7 298.6,289.1 299.0,288.6 299.5,288.1 299.9,287.6 300.4,287.1 300.8,286.6 301.2,286.2 301.7,285.7 302.1,285.3 302.6,284.9 303.0,284.5 303.5,284.2 303.9,283.8 304.4,283.5 304.8,283.1 305.3,282.8 305.7,282.4 306.1,282.1 306.6,281.7 307.0,281.3 307.5,281.0 307.9,280.6 308.4,280.3 308.8,279.9 309.3,279.6 309.7,279.2 310.1,278.9 310.6,278.5 311.0,278.2 311.5,277.9 311.9,277.5 312.4,277.2 312.8,276.9 313.3,276.6 313.7,276.2 314.2,275.9 314.6,275.6 315.0,275.3 315.5,275.0 315.9,274.6 316.4,274.3 316.8,274.0 317.3,273.7 317.7,273.4 318.2,273.1 318.6,272.8 319.1,272.5 319.5,272.3 319.9,272.0 320.4,271.8 320.8,271.6 321.3,271.4 321.7,271.2 322.2,271.0 322.6,270.8 323.1,270.6 323.5,270.4 323.9,270.3 324.4,270.1 324.8,270.0 325.3,269.9 325.7,269.8 326.2,269.7 326.6,269.6 327.1,269.5 327.5,269.4 328.0,269.3 328.4,269.3 328.8,269.2 329.3,269.1 329.7,269.0 330.2,269.0 330.6,268.9 331.1,268.8 331.5,268.7 332.0,268.6 332.4,268.5 332.8,268.5 333.3,268.4 333.7,268.3 334.2,268.2 334.6,268.2 335.1,268.1 335.5,268.0 336.0,267.9 336.4,267.8 336.9,267.8 337.3,267.7 337.7,267.6 338.2,267.5 338.6,267.4 339.1,267.4 339.5,267.3 340.0,267.2 340.4,267.1 340.9,267.0 341.3,266.9 341.8,266.9 342.2,266.8 342.6,266.7 343.1,266.6 343.5,266.5 344.0,266.4 344.4,266.4 344.9,266.3 345.3,266.2 345.8,266.1 346.2,266.0 346.6,265.9 347.1,265.8 347.5,265.7 348.0,265.7 348.4,265.6 348.9,265.5 349.3,265.4 349.8,265.3 350.2,265.2 350.7,265.1 351.1,265.0 351.5,264.9 352.0,264.8 352.4,264.7 352.9,264.6 353.3,264.6 353.8,264.5 354.2,264.4 354.7,264.3 355.1,264.2 355.6,264.1 356.0,264.0 356.4,263.9 356.9,263.8 357.3,263.6 357.8,263.5 358.2,263.4 358.7,263.3 359.1,263.2 359.6,263.1 360.0,263.0 360.4,262.9 360.9,262.8 361.3,262.7 361.8,262.6 362.2,262.5 362.7,262.4 363.1,262.3 363.6,262.2 364.0,262.1 364.5,262.0 364.9,261.9 365.3,261.9 365.8,261.8 366.2,261.7 366.7,261.6 367.1,261.5 367.6,261.4 368.0,261.3 368.5,261.2 368.9,261.1 369.3,261.1 369.8,261.0 370.2,260.9 370.7,260.8 371.1,260.7 371.6,260.6 372.0,260.6 372.5,260.5 372.9,260.4 373.4,260.3 373.8,260.3 374.2,260.2 374.7,260.1 375.1,260.1 375.6,260.0 376.0,259.9 376.5,259.9 376.9,259.8 377.4,259.7 377.8,259.7 378.3,259.6 378.7,259.5 379.1,259.5 379.6,259.4 380.0,259.4 380.5,259.3 380.9,259.2 381.4,259.2 381.8,259.1 382.3,259.1 382.7,259.0 383.1,259.0 383.6,258.9 384.0,258.9 384.5,258.8 384.9,258.8 385.4,258.7 385.8,258.7 386.3,258.6 386.7,258.6 387.2,258.5 387.6,258.5 388.0,258.4 388.5,258.4 388.9,258.3 389.4,258.3 389.8,258.2 390.3,258.2 390.7,258.2 391.2,258.1 391.6,258.1 392.0,258.1 392.5,258.0 392.9,258.0 393.4,258.0 393.8,257.9 394.3,257.9 394.7,257.9 395.2,257.8 395.6,257.8 396.1,257.8 396.5,257.8 396.9,257.7 397.4,257.7 397.8,257.7 398.3,257.7 398.7,257.6 399.2,257.6 399.6,257.6 400.1,257.6 400.5,257.5 401.0,257.5 401.4,257.5 401.8,257.5 402.3,257.5 402.7,257.4 403.2,257.4 403.6,257.4 404.1,257.4 404.5,257.4 405.0,257.3 405.4,257.3 405.8,257.3 406.3,257.3 406.7,257.3 407.2,257.3 407.6,257.2 408.1,257.2 408.5,257.2 409.0,257.2 409.4,257.2 409.9,257.2 410.3,257.1 410.7,257.1 411.2,257.1 411.6,257.1 412.1,257.1 412.5,257.1 413.0,257.1 413.4,257.0 413.9,257.0 414.3,257.0 414.8,257.0 415.2,257.0 415.6,257.0 416.1,257.0 416.5,256.9 417.0,256.9 417.4,256.9 417.9,256.9 418.3,256.9 418.8,256.9 419.2,256.9 419.6,256.9 420.1,256.8 420.5,256.8 421.0,256.8 421.4,256.8 421.9,256.8 422.3,256.8 422.8,256.8 423.2,256.8 423.7,256.8 424.1,256.7 424.5,256.7 425.0,256.7 425.4,256.7 425.9,256.7 426.3,256.7 426.8,256.7 427.2,256.7 427.7,256.7 428.1,256.7 428.5,256.6 429.0,256.6 429.4,256.6 429.9,256.6 430.3,256.6 430.8,256.6 431.2,256.6 431.7,256.6 432.1,256.6 432.6,256.6 433.0,256.6" fill="none" stroke="#77AC30" stroke-width="1.3" stroke-linejoin="round"/>
<rect x="379.30" y="191.20" width="49.00" height="50.10" fill="#fff" stroke="#8c8c8c" stroke-width="0.7"/>
<line x1="381.20" y1="197.00" x2="397.10" y2="197.00" stroke="#0072BD" stroke-width="1.3"/>
<text x="398.70" y="199.90">PFPE</text>
<line x1="381.20" y1="207.50" x2="397.10" y2="207.50" stroke="#D95319" stroke-width="1.3"/>
<text x="398.70" y="209.50">SiO<tspan dy="3.2" font-size="5.8">2</tspan></text>
<line x1="381.20" y1="218.30" x2="397.10" y2="218.30" stroke="#EDB120" stroke-width="1.3"/>
<text x="398.70" y="221.20">Cobalt</text>
<line x1="381.20" y1="227.40" x2="397.10" y2="227.40" stroke="#7E2F8E" stroke-width="1.3" stroke-dasharray="4.2,3.6"/>
<text x="398.70" y="230.20">Platinum</text>
<line x1="381.20" y1="236.60" x2="397.10" y2="236.60" stroke="#77AC30" stroke-width="1.3"/>
<text x="398.70" y="239.40">Iron</text>
<line x1="51.30" y1="313.30" x2="33.90" y2="313.30" stroke="#1a1a1a" stroke-width="1.1"/>
<path d="M28.90,313.30L33.90,311.30L32.90,313.30L33.90,315.30Z" fill="#1a1a1a"/>
<text x="51.3" y="315.8">Leading Edge</text>
<line x1="170.10" y1="313.40" x2="193.50" y2="313.40" stroke="#1a1a1a" stroke-width="1.1"/>
<path d="M198.50,313.40L193.50,311.40L194.50,313.40L193.50,315.40Z" fill="#1a1a1a"/>
<text x="170.1" y="315.8" text-anchor="end">Trailing Edge</text>
<line x1="282.00" y1="313.30" x2="264.50" y2="313.30" stroke="#1a1a1a" stroke-width="1.1"/>
<path d="M259.50,313.30L264.50,311.30L263.50,313.30L264.50,315.30Z" fill="#1a1a1a"/>
<text x="282.0" y="315.8">Disk Location</text>
<line x1="399.80" y1="313.30" x2="423.90" y2="313.30" stroke="#1a1a1a" stroke-width="1.1"/>
<path d="M428.90,313.30L423.90,311.30L424.90,313.30L423.90,315.30Z" fill="#1a1a1a"/>
<text x="399.8" y="315.8" text-anchor="end">Head Location</text>
</svg></body></html>
